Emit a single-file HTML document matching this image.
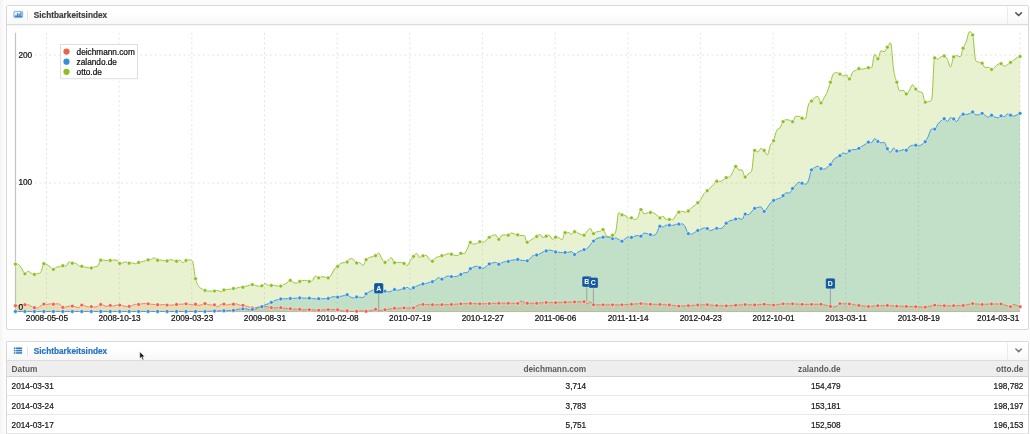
<!DOCTYPE html>
<html><head><meta charset="utf-8"><title>Sichtbarkeitsindex</title>
<style>
html,body{margin:0;padding:0}
body{width:1030px;height:434px;overflow:hidden;background:#fcfcfc;position:relative;font-family:"Liberation Sans",sans-serif;font-size:8.25px;color:#161616;-webkit-text-stroke:0.2px}
.edge{position:absolute;left:0;top:0;width:4px;height:434px;background:linear-gradient(to right,#f4f4f4,#fcfcfc)}
.panel{position:absolute;left:6px;width:1021px;border:1px solid #d9d9d9;background:#fff;box-sizing:content-box;border-radius:2px;box-shadow:0 0 1px rgba(0,0,0,0.05)}
.hd{position:absolute;left:0;top:0;right:0;height:17px;background:linear-gradient(#ffffff 40%,#f7f7f7);border-bottom:1px solid #dcdcdc;box-shadow:0 1px 1px rgba(0,0,0,0.04)}
.hd .sep{position:absolute;left:20px;top:5px;width:1px;height:8.5px;background:#e2e2e2}
.hd .ttl{position:absolute;left:26.8px;top:0;line-height:19.6px;font-weight:bold;color:#3e3e3e;white-space:nowrap}
.hd .chv{position:absolute;right:0;top:1px;bottom:0;width:20.2px;border-left:1px solid #ebebeb}
.t{position:absolute;white-space:nowrap;line-height:10px}
.r{text-align:right}
.th{font-weight:bold;color:#5a5a5a;-webkit-text-stroke:0}
.panel,svg,.t{filter:blur(0.35px)}
.row{position:absolute;left:0;right:0;border-bottom:1px solid #e7e7e7}
</style></head><body>
<div class="edge"></div>
<div class="panel" style="top:5px;height:323px">
 <div class="hd" style="height:17.5px"><div class="sep"></div><div class="ttl">Sichtbarkeitsindex</div><div class="chv"></div></div>
</div>
<div class="panel" style="top:341px;height:100px;border-bottom:none;border-radius:2px 2px 0 0">
 <div class="hd" style="height:17.8px"><div class="sep"></div><div class="ttl" style="color:#2273c3">Sichtbarkeitsindex</div><div class="chv"></div></div>
 <div class="row" style="top:18.8px;height:15.2px;background:#efeeee;border-bottom:1px solid #d4d4d4"></div>
 <div class="row" style="top:35px;height:17.8px"></div>
 <div class="row" style="top:53.8px;height:17.9px"></div>
 <div class="row" style="top:72.7px;height:18px"></div>
</div>
<div class="t th" style="left:11.6px;top:364.6px">Datum</div><div class="t r th" style="right:443.8px;top:364.6px">deichmann.com</div><div class="t r th" style="right:189.3px;top:364.6px">zalando.de</div><div class="t r th" style="right:6.6px;top:364.6px">otto.de</div>
<div class="t " style="left:11.6px;top:381.9px">2014-03-31</div><div class="t r " style="right:443.8px;top:381.9px">3,714</div><div class="t r " style="right:189.3px;top:381.9px">154,479</div><div class="t r " style="right:6.6px;top:381.9px">198,782</div>
<div class="t " style="left:11.6px;top:401.7px">2014-03-24</div><div class="t r " style="right:443.8px;top:401.7px">3,783</div><div class="t r " style="right:189.3px;top:401.7px">153,181</div><div class="t r " style="right:6.6px;top:401.7px">198,197</div>
<div class="t " style="left:11.6px;top:420.6px">2014-03-17</div><div class="t r " style="right:443.8px;top:420.6px">5,751</div><div class="t r " style="right:189.3px;top:420.6px">152,508</div><div class="t r " style="right:6.6px;top:420.6px">196,153</div>
<svg width="1030" height="434" viewBox="0 0 1030 434" style="position:absolute;left:0;top:0">
<line x1="46.5" y1="32.8" x2="46.5" y2="311.4" stroke="#e4e4e4" stroke-width="1" stroke-dasharray="2 2.8"/>
<line x1="119.2" y1="32.8" x2="119.2" y2="311.4" stroke="#e4e4e4" stroke-width="1" stroke-dasharray="2 2.8"/>
<line x1="191.8" y1="32.8" x2="191.8" y2="311.4" stroke="#e4e4e4" stroke-width="1" stroke-dasharray="2 2.8"/>
<line x1="264.5" y1="32.8" x2="264.5" y2="311.4" stroke="#e4e4e4" stroke-width="1" stroke-dasharray="2 2.8"/>
<line x1="337.1" y1="32.8" x2="337.1" y2="311.4" stroke="#e4e4e4" stroke-width="1" stroke-dasharray="2 2.8"/>
<line x1="409.8" y1="32.8" x2="409.8" y2="311.4" stroke="#e4e4e4" stroke-width="1" stroke-dasharray="2 2.8"/>
<line x1="482.4" y1="32.8" x2="482.4" y2="311.4" stroke="#e4e4e4" stroke-width="1" stroke-dasharray="2 2.8"/>
<line x1="555.1" y1="32.8" x2="555.1" y2="311.4" stroke="#e4e4e4" stroke-width="1" stroke-dasharray="2 2.8"/>
<line x1="627.8" y1="32.8" x2="627.8" y2="311.4" stroke="#e4e4e4" stroke-width="1" stroke-dasharray="2 2.8"/>
<line x1="700.4" y1="32.8" x2="700.4" y2="311.4" stroke="#e4e4e4" stroke-width="1" stroke-dasharray="2 2.8"/>
<line x1="773.1" y1="32.8" x2="773.1" y2="311.4" stroke="#e4e4e4" stroke-width="1" stroke-dasharray="2 2.8"/>
<line x1="845.7" y1="32.8" x2="845.7" y2="311.4" stroke="#e4e4e4" stroke-width="1" stroke-dasharray="2 2.8"/>
<line x1="918.4" y1="32.8" x2="918.4" y2="311.4" stroke="#e4e4e4" stroke-width="1" stroke-dasharray="2 2.8"/>
<line x1="1020.0" y1="32.8" x2="1020.0" y2="311.4" stroke="#e4e4e4" stroke-width="1" stroke-dasharray="2 2.8"/>
<line x1="15.5" y1="55.0" x2="1020.0" y2="55.0" stroke="#e4e4e4" stroke-width="1" stroke-dasharray="2 2.8"/>
<line x1="15.5" y1="183.0" x2="1020.0" y2="183.0" stroke="#e4e4e4" stroke-width="1" stroke-dasharray="2 2.8"/>
<line x1="15.5" y1="311.6" x2="1020" y2="311.6" stroke="#c2c6c2" stroke-width="1"/>
<line x1="15.5" y1="32.8" x2="15.5" y2="311.4" stroke="#c4c4c4" stroke-width="1.2"/>
<path d="M15.45 305.74C15.45 305.74 17.35 305.74 18.61 305.49C19.87 305.24 20.50 304.48 21.77 304.48C23.03 304.48 23.66 304.73 24.93 304.73C26.19 304.73 26.82 304.73 28.09 304.73C29.35 304.73 29.98 305.79 31.24 306.38C32.51 306.96 33.14 307.32 34.40 307.65C35.67 307.97 36.30 308.03 37.56 308.03C38.83 308.03 39.46 306.53 40.72 305.74C41.99 304.96 42.62 304.10 43.88 304.10C45.14 304.10 45.78 304.48 47.04 304.48C48.30 304.48 48.94 303.84 50.20 303.84C51.46 303.84 52.09 304.22 53.36 304.22C54.62 304.22 55.25 303.84 56.52 303.84C57.78 303.84 58.41 303.84 59.68 304.22C60.94 304.60 61.57 307.39 62.83 307.39C64.10 307.39 64.73 307.26 65.99 307.01C67.26 306.76 67.89 306.12 69.15 306.12C70.42 306.12 71.05 306.12 72.31 306.12C73.58 306.12 74.21 306.45 75.47 306.76C76.73 307.06 77.37 307.65 78.63 307.65C79.89 307.65 80.53 305.11 81.79 305.11C83.05 305.11 83.68 305.36 84.95 305.74C86.21 306.12 86.84 307.01 88.11 307.01C89.37 307.01 90.00 306.63 91.27 306.63C92.53 306.63 93.16 307.01 94.42 307.01C95.69 307.01 96.32 306.88 97.58 306.38C98.85 305.87 99.48 304.48 100.74 304.48C102.01 304.48 102.64 305.11 103.90 305.49C105.17 305.87 105.80 306.38 107.06 306.38C108.32 306.38 108.96 305.49 110.22 305.49C111.48 305.49 112.12 306.00 113.38 306.00C114.64 306.00 115.27 305.11 116.54 305.11C117.80 305.11 118.43 305.11 119.70 305.11C120.96 305.11 121.59 305.49 122.86 305.74C124.12 306.00 124.75 306.38 126.02 306.38C127.28 306.38 127.91 306.38 129.17 306.38C130.44 306.38 131.07 305.92 132.33 305.49C133.60 305.06 134.23 304.22 135.49 304.22C136.76 304.22 137.39 304.48 138.65 304.48C139.91 304.48 140.55 304.02 141.81 303.84C143.07 303.67 143.71 303.59 144.97 303.59C146.23 303.59 146.86 303.72 148.13 303.84C149.39 303.97 150.02 304.10 151.29 304.22C152.55 304.35 153.18 304.38 154.45 304.48C155.71 304.58 156.34 304.65 157.60 304.73C158.87 304.81 159.50 304.86 160.76 304.86C162.03 304.86 162.66 304.48 163.92 304.48C165.19 304.48 165.82 305.11 167.08 305.11C168.35 305.11 168.98 305.11 170.24 305.11C171.50 305.11 172.14 304.98 173.40 304.86C174.66 304.73 175.30 304.60 176.56 304.48C177.82 304.35 178.45 304.30 179.72 304.22C180.98 304.15 181.61 304.17 182.88 304.10C184.14 304.02 184.77 303.84 186.04 303.84C187.30 303.84 187.93 304.02 189.19 304.22C190.46 304.43 191.09 304.86 192.35 304.86C193.62 304.86 194.25 304.22 195.51 304.22C196.78 304.22 197.41 305.49 198.67 305.49C199.94 305.49 200.57 304.86 201.83 304.48C203.09 304.10 203.73 303.59 204.99 303.59C206.25 303.59 206.89 304.17 208.15 304.48C209.41 304.78 210.04 305.11 211.31 305.11C212.57 305.11 213.20 304.86 214.47 304.86C215.73 304.86 216.36 306.76 217.63 306.76C218.89 306.76 219.52 304.86 220.78 304.48C222.05 304.10 222.68 304.10 223.94 304.10C225.21 304.10 225.84 305.11 227.10 305.11C228.37 305.11 229.00 304.22 230.26 304.22C231.53 304.22 232.16 304.22 233.42 304.22C234.68 304.22 235.32 303.84 236.58 303.84C237.84 303.84 238.48 304.86 239.74 305.11C241.00 305.36 241.63 305.19 242.90 305.36C244.16 305.54 244.79 305.67 246.06 306.00C247.32 306.33 247.95 306.61 249.22 307.01C250.48 307.42 251.11 308.03 252.37 308.03C253.64 308.03 254.27 307.85 255.53 307.65C256.80 307.44 257.43 307.19 258.69 307.01C259.96 306.83 260.59 306.88 261.85 306.76C263.12 306.63 263.75 306.38 265.01 306.38C266.27 306.38 266.91 306.76 268.17 307.01C269.43 307.26 270.07 307.44 271.33 307.65C272.59 307.85 273.22 308.03 274.49 308.03C275.75 308.03 276.38 307.65 277.65 307.65C278.91 307.65 279.54 307.65 280.81 307.65C282.07 307.65 282.70 308.10 283.96 308.28C285.23 308.46 285.86 308.46 287.12 308.53C288.39 308.61 289.02 308.53 290.28 308.66C291.55 308.79 292.18 309.04 293.44 309.17C294.71 309.29 295.34 309.29 296.60 309.29C297.86 309.29 298.50 309.29 299.76 309.29C301.02 309.29 301.66 309.80 302.92 309.80C304.18 309.80 304.81 309.55 306.08 309.55C307.34 309.55 307.97 309.80 309.24 309.80C310.50 309.80 311.13 309.55 312.40 309.55C313.66 309.55 314.29 310.18 315.55 310.18C316.82 310.18 317.45 310.18 318.71 310.18C319.98 310.18 320.61 310.00 321.87 309.93C323.14 309.85 323.77 309.80 325.03 309.80C326.30 309.80 326.93 309.80 328.19 309.80C329.45 309.80 330.09 309.55 331.35 309.55C332.61 309.55 333.25 309.55 334.51 309.55C335.77 309.55 336.40 309.60 337.67 309.80C338.93 310.00 339.56 310.31 340.83 310.56C342.09 310.81 342.72 311.07 343.99 311.07C345.25 311.07 345.88 310.81 347.14 310.81C348.41 310.81 349.04 311.45 350.30 311.45C351.57 311.45 352.20 311.45 353.46 311.45C354.73 311.45 355.36 311.27 356.62 311.19C357.89 311.12 358.52 311.14 359.78 311.07C361.04 310.99 361.68 310.81 362.94 310.81C364.20 310.81 364.84 311.19 366.10 311.19C367.36 311.19 367.99 311.02 369.26 310.81C370.52 310.61 371.15 310.48 372.42 310.18C373.68 309.88 374.31 309.29 375.58 309.29C376.84 309.29 377.47 310.81 378.73 310.81C380.00 310.81 380.63 310.38 381.89 310.18C383.16 309.98 383.79 309.98 385.05 309.80C386.32 309.62 386.95 309.52 388.21 309.29C389.48 309.06 390.11 308.86 391.37 308.66C392.63 308.46 393.27 308.28 394.53 308.28C395.79 308.28 396.43 308.28 397.69 308.28C398.95 308.28 399.58 308.10 400.85 308.03C402.11 307.95 402.74 307.90 404.01 307.90C405.27 307.90 405.90 308.03 407.17 308.03C408.43 308.03 409.06 308.03 410.32 308.03C411.59 308.03 412.22 308.03 413.48 307.90C414.75 307.77 415.38 306.66 416.64 306.00C417.91 305.34 418.54 304.73 419.80 304.60C421.07 304.48 421.70 304.48 422.96 304.48C424.22 304.48 424.86 304.53 426.12 304.56C427.38 304.59 428.02 304.61 429.28 304.65C430.54 304.68 431.17 304.73 432.44 304.73C433.70 304.73 434.33 304.73 435.60 304.73C436.86 304.73 437.49 304.73 438.76 304.73C440.02 304.73 440.65 304.73 441.91 304.73C443.18 304.73 443.81 304.68 445.07 304.65C446.34 304.61 446.97 304.59 448.23 304.56C449.50 304.53 450.13 304.54 451.39 304.48C452.66 304.42 453.29 304.35 454.55 304.27C455.81 304.18 456.45 304.14 457.71 304.05C458.97 303.97 459.61 303.91 460.87 303.84C462.13 303.78 462.76 303.77 464.03 303.72C465.29 303.67 465.92 303.64 467.19 303.59C468.45 303.54 469.08 303.46 470.35 303.46C471.61 303.46 472.24 303.54 473.50 303.59C474.77 303.64 475.40 303.67 476.66 303.72C477.93 303.77 478.56 303.84 479.82 303.84C481.09 303.84 481.72 303.79 482.98 303.76C484.25 303.72 484.88 303.71 486.14 303.67C487.40 303.64 488.04 303.63 489.30 303.59C490.56 303.55 491.20 303.51 492.46 303.46C493.72 303.41 494.35 303.39 495.62 303.34C496.88 303.29 497.51 303.21 498.78 303.21C500.04 303.21 500.67 303.21 501.94 303.21C503.20 303.21 503.83 303.21 505.09 303.21C506.36 303.21 506.99 303.21 508.25 303.21C509.52 303.21 510.15 303.23 511.41 303.25C512.68 303.27 513.31 303.27 514.57 303.29C515.84 303.31 516.47 303.33 517.73 303.33C518.99 303.33 519.63 301.05 520.89 301.05C522.15 301.05 522.79 301.89 524.05 302.32C525.31 302.75 525.94 303.21 527.21 303.21C528.47 303.21 529.10 303.21 530.37 303.21C531.63 303.21 532.26 303.21 533.53 303.21C534.79 303.21 535.42 303.21 536.69 303.21C537.95 303.21 538.58 303.05 539.84 302.95C541.11 302.85 541.74 302.80 543.00 302.70C544.27 302.60 544.90 302.45 546.16 302.45C547.43 302.45 548.06 302.50 549.32 302.53C550.58 302.56 551.22 302.58 552.48 302.62C553.74 302.65 554.38 302.70 555.64 302.70C556.90 302.70 557.53 302.60 558.80 302.53C560.06 302.46 560.69 302.43 561.96 302.36C563.22 302.29 563.85 302.24 565.12 302.19C566.38 302.14 567.01 302.14 568.27 302.11C569.54 302.07 570.17 302.06 571.43 302.02C572.70 301.99 573.33 301.97 574.59 301.94C575.86 301.91 576.49 301.89 577.75 301.85C579.02 301.82 579.65 301.80 580.91 301.77C582.17 301.74 582.81 301.69 584.07 301.69C585.33 301.69 585.97 303.59 587.23 303.59C588.49 303.59 589.12 301.94 590.39 301.94C591.65 301.94 592.28 304.85 593.55 304.85C594.81 304.85 595.44 304.85 596.71 304.85C597.97 304.85 598.60 304.85 599.87 304.85C601.13 304.85 601.76 304.85 603.02 304.85C604.29 304.85 604.92 304.85 606.18 304.85C607.45 304.85 608.08 304.85 609.34 304.85C610.61 304.85 611.24 304.85 612.50 304.85C613.76 304.85 614.40 304.85 615.66 304.85C616.92 304.85 617.56 304.85 618.82 304.85C620.08 304.85 620.71 304.85 621.98 304.85C623.24 304.85 623.87 304.73 625.14 304.64C626.40 304.56 627.03 304.52 628.30 304.43C629.56 304.35 630.19 304.31 631.46 304.22C632.72 304.14 633.35 304.09 634.61 304.01C635.88 303.92 636.51 303.88 637.77 303.80C639.04 303.71 639.67 303.59 640.93 303.59C642.20 303.59 642.83 303.71 644.09 303.80C645.35 303.88 645.99 303.92 647.25 304.01C648.51 304.09 649.15 304.16 650.41 304.22C651.67 304.28 652.30 304.27 653.57 304.31C654.83 304.34 655.46 304.36 656.73 304.39C657.99 304.42 658.62 304.42 659.89 304.47C661.15 304.52 661.78 304.58 663.04 304.64C664.31 304.71 664.94 304.74 666.20 304.81C667.47 304.88 668.10 304.87 669.36 304.98C670.63 305.09 671.26 305.21 672.52 305.36C673.79 305.51 674.42 305.59 675.68 305.74C676.94 305.89 677.58 306.12 678.84 306.12C680.10 306.12 680.74 306.05 682.00 305.99C683.26 305.94 683.89 305.92 685.16 305.87C686.42 305.82 687.05 305.82 688.32 305.74C689.58 305.67 690.21 305.59 691.48 305.49C692.74 305.39 693.37 305.34 694.63 305.23C695.90 305.13 696.53 305.05 697.79 304.98C699.06 304.91 699.69 304.93 700.95 304.90C702.22 304.86 702.85 304.85 704.11 304.81C705.38 304.78 706.01 304.73 707.27 304.73C708.53 304.73 709.17 304.90 710.43 305.02C711.69 305.14 712.33 305.20 713.59 305.32C714.85 305.44 715.48 305.54 716.75 305.61C718.01 305.69 718.64 305.67 719.91 305.70C721.17 305.73 721.80 305.75 723.07 305.78C724.33 305.82 724.96 305.87 726.23 305.87C727.49 305.87 728.12 305.74 729.38 305.66C730.65 305.57 731.28 305.53 732.54 305.45C733.81 305.36 734.44 305.32 735.70 305.23C736.97 305.15 737.60 305.11 738.86 305.02C740.12 304.94 740.76 304.90 742.02 304.81C743.28 304.73 743.92 304.60 745.18 304.60C746.44 304.60 747.07 304.68 748.34 304.73C749.60 304.78 750.23 304.80 751.50 304.85C752.76 304.90 753.39 304.98 754.66 304.98C755.92 304.98 756.55 304.83 757.82 304.73C759.08 304.63 759.71 304.58 760.97 304.47C762.24 304.37 762.87 304.22 764.13 304.22C765.40 304.22 766.03 304.40 767.29 304.52C768.56 304.63 769.19 304.69 770.45 304.81C771.71 304.93 772.35 305.11 773.61 305.11C774.87 305.11 775.51 304.85 776.77 304.69C778.03 304.52 778.66 304.43 779.93 304.26C781.19 304.09 781.82 303.84 783.09 303.84C784.35 303.84 784.98 303.84 786.25 303.84C787.51 303.84 788.14 303.84 789.40 303.84C790.67 303.84 791.30 303.84 792.56 303.84C793.83 303.84 794.46 303.94 795.72 304.01C796.99 304.08 797.62 304.11 798.88 304.18C800.15 304.25 800.78 304.35 802.04 304.35C803.30 304.35 803.94 304.35 805.20 304.35C806.46 304.35 807.10 304.35 808.36 304.35C809.62 304.35 810.25 304.35 811.52 304.35C812.78 304.35 813.41 304.32 814.68 304.31C815.94 304.29 816.57 304.28 817.84 304.26C819.10 304.25 819.73 304.22 821.00 304.22C822.26 304.22 822.89 304.60 824.15 304.85C825.42 305.11 826.05 305.16 827.31 305.49C828.58 305.82 829.21 306.25 830.47 306.50C831.74 306.76 832.37 306.76 833.63 306.76C834.89 306.76 835.53 306.76 836.79 306.25C838.05 305.74 838.69 303.59 839.95 303.59C841.21 303.59 841.84 303.66 843.11 303.71C844.37 303.76 845.00 303.79 846.27 303.84C847.53 303.89 848.16 303.84 849.43 303.97C850.69 304.09 851.32 304.27 852.59 304.47C853.85 304.68 854.48 304.78 855.74 304.98C857.01 305.18 857.64 305.32 858.90 305.49C860.17 305.66 860.80 305.69 862.06 305.83C863.33 305.96 863.96 306.03 865.22 306.16C866.48 306.30 867.12 306.50 868.38 306.50C869.64 306.50 870.28 306.35 871.54 306.25C872.80 306.15 873.43 306.10 874.70 305.99C875.96 305.89 876.59 305.81 877.86 305.74C879.12 305.67 879.75 305.69 881.02 305.66C882.28 305.62 882.91 305.61 884.17 305.57C885.44 305.54 886.07 305.49 887.33 305.49C888.60 305.49 889.23 305.61 890.49 305.70C891.76 305.78 892.39 305.83 893.65 305.91C894.92 305.99 895.55 306.06 896.81 306.12C898.07 306.18 898.71 306.17 899.97 306.21C901.23 306.24 901.87 306.26 903.13 306.29C904.39 306.32 905.02 306.33 906.29 306.38C907.55 306.42 908.18 306.45 909.45 306.50C910.71 306.55 911.34 306.58 912.61 306.63C913.87 306.68 914.50 306.70 915.76 306.76C917.03 306.81 917.66 306.83 918.92 306.88C920.19 306.93 920.82 306.96 922.08 307.01C923.35 307.06 923.98 307.14 925.24 307.14C926.51 307.14 927.14 306.73 928.40 306.46C929.66 306.19 930.30 306.05 931.56 305.78C932.82 305.51 933.46 305.11 934.72 305.11C935.98 305.11 936.61 305.23 937.88 305.32C939.14 305.40 939.77 305.45 941.04 305.53C942.30 305.61 942.93 305.74 944.20 305.74C945.46 305.74 946.09 305.74 947.36 305.74C948.62 305.74 949.25 305.74 950.51 305.74C951.78 305.74 952.41 305.74 953.67 305.74C954.94 305.74 955.57 305.69 956.83 305.66C958.10 305.62 958.73 305.61 959.99 305.57C961.25 305.54 961.89 305.57 963.15 305.49C964.41 305.40 965.05 305.11 966.31 304.85C967.57 304.60 968.20 304.47 969.47 304.22C970.73 303.97 971.36 303.59 972.63 303.59C973.89 303.59 974.52 303.76 975.79 303.88C977.05 304.00 977.68 304.06 978.94 304.18C980.21 304.30 980.84 304.47 982.10 304.47C983.37 304.47 984.00 304.37 985.26 304.31C986.53 304.24 987.16 304.20 988.42 304.14C989.69 304.07 990.32 303.97 991.58 303.97C992.84 303.97 993.48 303.97 994.74 303.97C996.00 303.97 996.64 303.97 997.90 303.97C999.16 303.97 999.79 303.97 1001.06 303.97C1002.32 303.97 1002.95 304.52 1004.22 304.90C1005.48 305.27 1006.11 305.45 1007.38 305.83C1008.64 306.20 1009.27 306.76 1010.53 306.76C1011.80 306.76 1012.43 304.47 1013.69 304.47C1014.96 304.47 1015.59 305.03 1016.85 305.49C1018.12 305.94 1020.01 306.76 1020.01 306.76L1020.01 311.40L15.45 311.40Z" fill="rgba(255,132,78,0.22)" stroke="none"/>
<path d="M15.45 311.45C15.45 311.45 17.35 311.45 18.61 311.45C19.87 311.45 20.50 311.45 21.77 311.45C23.03 311.45 23.66 311.45 24.93 311.45C26.19 311.45 26.82 311.45 28.09 311.45C29.35 311.45 29.98 311.45 31.24 311.45C32.51 311.45 33.14 311.45 34.40 311.45C35.67 311.45 36.30 311.45 37.56 311.45C38.83 311.45 39.46 311.45 40.72 311.45C41.99 311.45 42.62 311.45 43.88 311.45C45.14 311.45 45.78 311.45 47.04 311.45C48.30 311.45 48.94 311.45 50.20 311.45C51.46 311.45 52.09 311.45 53.36 311.45C54.62 311.45 55.25 311.45 56.52 311.45C57.78 311.45 58.41 311.45 59.68 311.45C60.94 311.45 61.57 311.45 62.83 311.45C64.10 311.45 64.73 311.45 65.99 311.45C67.26 311.45 67.89 311.45 69.15 311.45C70.42 311.45 71.05 311.45 72.31 311.45C73.58 311.45 74.21 311.45 75.47 311.45C76.73 311.45 77.37 311.45 78.63 311.45C79.89 311.45 80.53 311.45 81.79 311.45C83.05 311.45 83.68 311.45 84.95 311.45C86.21 311.45 86.84 311.45 88.11 311.45C89.37 311.45 90.00 311.45 91.27 311.45C92.53 311.45 93.16 311.45 94.42 311.45C95.69 311.45 96.32 311.45 97.58 311.45C98.85 311.45 99.48 311.45 100.74 311.45C102.01 311.45 102.64 311.45 103.90 311.45C105.17 311.45 105.80 311.45 107.06 311.45C108.32 311.45 108.96 311.45 110.22 311.45C111.48 311.45 112.12 311.45 113.38 311.45C114.64 311.45 115.27 311.45 116.54 311.45C117.80 311.45 118.43 311.45 119.70 311.45C120.96 311.45 121.59 311.45 122.86 311.45C124.12 311.45 124.75 311.45 126.02 311.45C127.28 311.45 127.91 311.45 129.17 311.45C130.44 311.45 131.07 311.45 132.33 311.45C133.60 311.45 134.23 311.45 135.49 311.45C136.76 311.45 137.39 311.45 138.65 311.45C139.91 311.45 140.55 311.45 141.81 311.45C143.07 311.45 143.71 311.45 144.97 311.45C146.23 311.45 146.86 311.45 148.13 311.45C149.39 311.45 150.02 311.45 151.29 311.45C152.55 311.45 153.18 311.45 154.45 311.45C155.71 311.45 156.34 311.45 157.60 311.45C158.87 311.45 159.50 311.45 160.76 311.45C162.03 311.45 162.66 311.45 163.92 311.45C165.19 311.45 165.82 311.45 167.08 311.45C168.35 311.45 168.98 311.45 170.24 311.45C171.50 311.45 172.14 311.45 173.40 311.45C174.66 311.45 175.30 311.45 176.56 311.45C177.82 311.45 178.45 311.45 179.72 311.45C180.98 311.45 181.61 311.45 182.88 311.45C184.14 311.45 184.77 311.45 186.04 311.45C187.30 311.45 187.93 311.45 189.19 311.45C190.46 311.45 191.09 311.45 192.35 311.45C193.62 311.45 194.25 311.45 195.51 311.45C196.78 311.45 197.41 311.45 198.67 311.45C199.94 311.45 200.57 311.45 201.83 311.45C203.09 311.45 203.73 311.45 204.99 311.45C206.25 311.45 206.89 311.37 208.15 311.32C209.41 311.27 210.04 311.24 211.31 311.19C212.57 311.14 213.20 311.12 214.47 311.07C215.73 311.02 216.36 310.99 217.63 310.94C218.89 310.89 219.52 310.81 220.78 310.81C222.05 310.81 222.68 310.81 223.94 310.81C225.21 310.81 225.84 310.74 227.10 310.69C228.37 310.64 229.00 310.61 230.26 310.56C231.53 310.51 232.16 310.56 233.42 310.43C234.68 310.31 235.32 310.08 236.58 309.80C237.84 309.52 238.48 309.17 239.74 309.04C241.00 308.91 241.63 308.99 242.90 308.91C244.16 308.84 244.79 308.66 246.06 308.66C247.32 308.66 247.95 309.80 249.22 309.80C250.48 309.80 251.11 309.72 252.37 309.55C253.64 309.37 254.27 309.37 255.53 308.91C256.80 308.46 257.43 307.70 258.69 307.26C259.96 306.83 260.59 307.26 261.85 306.76C263.12 306.26 263.75 305.33 265.01 304.75C266.27 304.17 266.91 304.35 268.17 303.87C269.43 303.38 270.07 302.98 271.33 302.34C272.59 301.71 273.22 301.23 274.49 300.70C275.75 300.16 276.38 300.01 277.65 299.68C278.91 299.35 279.54 299.23 280.81 299.05C282.07 298.87 282.70 298.87 283.96 298.80C285.23 298.72 285.86 298.72 287.12 298.67C288.39 298.62 289.02 298.62 290.28 298.54C291.55 298.47 292.18 298.37 293.44 298.29C294.71 298.21 295.34 298.24 296.60 298.16C297.86 298.09 298.50 297.91 299.76 297.91C301.02 297.91 301.66 297.98 302.92 298.04C304.18 298.09 304.81 298.16 306.08 298.16C307.34 298.16 307.97 298.16 309.24 298.16C310.50 298.16 311.13 298.42 312.40 298.54C313.66 298.67 314.29 298.80 315.55 298.80C316.82 298.80 317.45 298.80 318.71 298.80C319.98 298.80 320.61 298.80 321.87 298.80C323.14 298.80 323.77 298.72 325.03 298.67C326.30 298.62 326.93 298.67 328.19 298.54C329.45 298.42 330.09 297.53 331.35 297.15C332.61 296.77 333.25 296.64 334.51 296.64C335.77 296.64 336.40 297.15 337.67 297.15C338.93 297.15 339.56 296.57 340.83 296.26C342.09 295.96 342.72 295.93 343.99 295.63C345.25 295.32 345.88 294.74 347.14 294.74C348.41 294.74 349.04 296.26 350.30 296.89C351.57 297.53 352.20 297.91 353.46 297.91C354.73 297.91 355.36 297.02 356.62 297.02C357.89 297.02 358.52 297.17 359.78 297.28C361.04 297.38 361.68 297.53 362.94 297.53C364.20 297.53 364.84 294.99 366.10 293.85C367.36 292.71 367.99 292.53 369.26 291.83C370.52 291.12 371.15 290.76 372.42 290.30C373.68 289.85 374.31 289.54 375.58 289.54C376.84 289.54 377.47 289.67 378.73 289.92C380.00 290.18 380.63 290.56 381.89 290.81C383.16 291.06 383.79 290.99 385.05 291.19C386.32 291.39 386.95 291.83 388.21 291.83C389.48 291.83 390.11 291.65 391.37 291.19C392.63 290.74 393.27 289.54 394.53 289.54C395.79 289.54 396.43 290.30 397.69 290.30C398.95 290.30 399.58 289.67 400.85 289.29C402.11 288.91 402.74 288.78 404.01 288.40C405.27 288.02 405.90 287.39 407.17 287.39C408.43 287.39 409.06 289.29 410.32 289.29C411.59 289.29 412.22 288.40 413.48 287.77C414.75 287.14 415.38 286.70 416.64 286.12C417.91 285.54 418.54 285.29 419.80 284.85C421.07 284.42 421.70 284.22 422.96 283.97C424.22 283.71 424.86 283.92 426.12 283.59C427.38 283.26 428.02 282.70 429.28 282.32C430.54 281.94 431.17 282.19 432.44 281.69C433.70 281.18 434.33 280.60 435.60 279.78C436.86 278.97 437.49 277.63 438.76 277.63C440.02 277.63 440.65 279.15 441.91 279.15C443.18 279.15 443.81 277.88 445.07 277.25C446.34 276.62 446.97 275.98 448.23 275.98C449.50 275.98 450.13 276.62 451.39 276.62C452.66 276.62 453.29 276.62 454.55 276.62C455.81 276.62 456.45 276.41 457.71 275.98C458.97 275.55 459.61 275.10 460.87 274.46C462.13 273.83 462.76 273.07 464.03 272.81C465.29 272.56 465.92 272.81 467.19 272.56C468.45 272.31 469.08 269.85 470.35 268.76C471.61 267.67 472.24 267.62 473.50 267.11C474.77 266.60 475.40 266.22 476.66 266.22C477.93 266.22 478.56 267.36 479.82 267.74C481.09 268.12 481.72 268.12 482.98 268.12C484.25 268.12 484.88 267.31 486.14 266.48C487.40 265.64 488.04 264.63 489.30 263.94C490.56 263.26 491.20 263.36 492.46 263.05C493.72 262.75 494.35 262.42 495.62 262.42C496.88 262.42 497.51 264.32 498.78 264.32C500.04 264.32 500.67 263.21 501.94 262.67C503.20 262.14 503.83 261.82 505.09 261.66C506.36 261.50 506.99 261.66 508.25 261.50C509.52 261.34 510.15 260.56 511.41 260.23C512.68 259.90 513.31 260.01 514.57 259.85C515.84 259.70 516.47 259.47 517.73 259.47C518.99 259.47 519.63 260.03 520.89 260.23C522.15 260.44 522.79 260.36 524.05 260.49C525.31 260.61 525.94 260.87 527.21 260.87C528.47 260.87 529.10 259.30 530.37 258.21C531.63 257.12 532.26 255.80 533.53 255.42C534.79 255.04 535.42 255.34 536.69 255.04C537.95 254.73 538.58 254.53 539.84 253.90C541.11 253.26 541.74 252.45 543.00 251.87C544.27 251.29 544.90 251.34 546.16 250.98C547.43 250.63 548.06 250.10 549.32 250.10C550.58 250.10 551.22 250.35 552.48 250.73C553.74 251.11 554.38 251.74 555.64 252.00C556.90 252.25 557.53 252.12 558.80 252.25C560.06 252.38 560.69 252.63 561.96 252.63C563.22 252.63 563.85 252.58 565.12 252.50C566.38 252.43 567.01 252.43 568.27 252.25C569.54 252.07 570.17 251.62 571.43 251.62C572.70 251.62 573.33 254.53 574.59 254.53C575.86 254.53 576.49 253.01 577.75 252.25C579.02 251.49 579.65 251.24 580.91 250.73C582.17 250.22 582.81 250.17 584.07 249.71C585.33 249.26 585.97 249.46 587.23 248.45C588.49 247.43 589.12 246.12 590.39 244.65C591.65 243.17 592.28 242.31 593.55 241.10C594.81 239.88 595.44 239.25 596.71 238.56C597.97 237.88 598.60 237.93 599.87 237.67C601.13 237.42 601.76 237.47 603.02 237.29C604.29 237.12 604.92 236.79 606.18 236.79C607.45 236.79 608.08 236.91 609.34 237.29C610.61 237.67 611.24 238.69 612.50 238.69C613.76 238.69 614.40 238.05 615.66 238.05C616.92 238.05 617.56 238.94 618.82 239.58C620.08 240.21 620.71 241.22 621.98 241.22C623.24 241.22 623.87 239.52 625.14 238.69C626.40 237.85 627.03 237.04 628.30 237.04C629.56 237.04 630.19 237.46 631.46 237.46C632.72 237.46 633.35 236.57 634.61 236.19C635.88 235.81 636.51 235.56 637.77 235.56C639.04 235.56 639.67 236.19 640.93 236.19C642.20 236.19 642.83 233.02 644.09 233.02C645.35 233.02 645.99 233.33 647.25 233.66C648.51 233.99 649.15 234.34 650.41 234.67C651.67 235.00 652.30 235.30 653.57 235.30C654.83 235.30 655.46 234.82 656.73 233.02C657.99 231.22 658.62 226.31 659.89 226.31C661.15 226.31 661.78 226.94 663.04 226.94C664.31 226.94 664.94 225.16 666.20 225.16C667.47 225.16 668.10 225.16 669.36 225.16C670.63 225.16 671.26 225.42 672.52 225.42C673.79 225.42 674.42 224.66 675.68 224.40C676.94 224.15 677.58 224.25 678.84 224.15C680.10 224.05 680.74 223.90 682.00 223.90C683.26 223.90 683.89 224.73 685.16 226.69C686.42 228.64 687.05 233.28 688.32 233.66C689.58 234.04 690.21 234.04 691.48 234.04C692.74 234.04 693.37 233.10 694.63 232.39C695.90 231.68 696.53 231.12 697.79 230.49C699.06 229.85 699.69 229.73 700.95 229.22C702.22 228.71 702.85 227.95 704.11 227.95C705.38 227.95 706.01 228.08 707.27 228.59C708.53 229.09 709.17 230.49 710.43 230.49C711.69 230.49 712.33 229.90 713.59 229.47C714.85 229.04 715.48 228.33 716.75 228.33C718.01 228.33 718.64 228.59 719.91 228.59C721.17 228.59 721.80 228.38 723.07 227.32C724.33 226.25 724.96 224.53 726.23 223.26C727.49 222.00 728.12 221.62 729.38 220.98C730.65 220.35 731.28 220.48 732.54 220.10C733.81 219.71 734.44 219.46 735.70 219.08C736.97 218.70 737.60 218.19 738.86 218.19C740.12 218.19 740.76 219.46 742.02 219.46C743.28 219.46 743.92 214.10 745.18 214.10C746.44 214.10 747.07 214.70 748.34 214.70C749.60 214.70 750.23 212.96 751.50 211.70C752.76 210.45 753.39 209.28 754.66 208.41C755.92 207.54 756.55 207.66 757.82 207.36C759.08 207.06 759.71 206.91 760.97 206.91C762.24 206.91 762.87 211.40 764.13 211.40C765.40 211.40 766.03 209.31 767.29 207.66C768.56 206.01 769.19 204.61 770.45 203.17C771.71 201.73 772.35 201.28 773.61 200.47C774.87 199.66 775.51 199.57 776.77 199.12C778.03 198.67 778.66 198.91 779.93 198.23C781.19 197.54 781.82 196.79 783.09 195.68C784.35 194.57 784.98 192.68 786.25 192.68C787.51 192.68 788.14 193.13 789.40 193.13C790.67 193.13 791.30 190.08 792.56 188.49C793.83 186.90 794.46 186.45 795.72 185.20C796.99 183.94 797.62 182.20 798.88 182.20C800.15 182.20 800.78 182.86 802.04 183.25C803.30 183.64 803.94 184.15 805.20 184.15C806.46 184.15 807.10 183.55 808.36 180.70C809.62 177.86 810.25 172.17 811.52 169.92C812.78 167.67 813.41 168.42 814.68 167.67C815.94 166.92 816.57 166.17 817.84 166.17C819.10 166.17 819.73 168.27 821.00 168.72C822.26 169.17 822.89 169.17 824.15 169.17C825.42 169.17 826.05 168.15 827.31 167.22C828.58 166.29 829.21 166.03 830.47 164.53C831.74 163.03 832.37 161.20 833.63 159.73C834.89 158.27 835.53 158.00 836.79 157.19C838.05 156.38 838.69 156.55 839.95 155.70C841.21 154.84 841.84 152.91 843.11 152.91C844.37 152.91 845.00 153.80 846.27 153.80C847.53 153.80 848.16 151.84 849.43 151.01C850.69 150.17 851.32 149.61 852.59 149.61C853.85 149.61 854.48 149.61 855.74 149.61C857.01 149.61 857.64 149.03 858.90 148.35C860.17 147.66 860.80 147.00 862.06 146.19C863.33 145.38 863.96 145.10 865.22 144.29C866.48 143.48 867.12 142.14 868.38 142.14C869.64 142.14 870.28 142.64 871.54 142.64C872.80 142.64 873.43 138.59 874.70 138.59C875.96 138.59 876.59 140.67 877.86 141.50C879.12 142.34 879.75 142.77 881.02 142.77C882.28 142.77 882.91 142.39 884.17 142.39C885.44 142.39 886.07 146.77 887.33 148.73C888.60 150.68 889.23 152.15 890.49 152.15C891.76 152.15 892.39 148.09 893.65 148.09C894.92 148.09 895.55 151.01 896.81 151.01C898.07 151.01 898.71 151.01 899.97 150.88C901.23 150.75 901.87 149.61 903.13 149.61C904.39 149.61 905.02 150.25 906.29 150.25C907.55 150.25 908.18 147.56 909.45 146.57C910.71 145.58 911.34 145.43 912.61 145.30C913.87 145.18 914.50 145.18 915.76 145.18C917.03 145.18 917.66 145.81 918.92 145.81C920.19 145.81 920.82 145.10 922.08 144.29C923.35 143.48 923.98 143.40 925.24 141.76C926.51 140.11 927.14 138.59 928.40 136.05C929.66 133.52 930.30 129.08 931.56 129.08C932.82 129.08 933.46 129.08 934.72 129.08C935.98 129.08 936.61 125.66 937.88 124.01C939.14 122.36 939.77 121.91 941.04 120.84C942.30 119.78 942.93 118.69 944.20 118.69C945.46 118.69 946.09 121.48 947.36 121.48C948.62 121.48 949.25 117.67 950.51 117.67C951.78 117.67 952.41 118.18 953.67 118.94C954.94 119.70 955.57 121.48 956.83 121.48C958.10 121.48 958.73 117.86 959.99 116.41C961.25 114.96 961.89 114.22 963.15 114.22C964.41 114.22 965.05 114.47 966.31 114.47C967.57 114.47 968.20 114.07 969.47 113.59C970.73 113.11 971.36 112.07 972.63 112.07C973.89 112.07 974.52 114.85 975.79 114.85C977.05 114.85 977.68 114.85 978.94 114.85C980.21 114.85 980.84 113.33 982.10 113.33C983.37 113.33 984.00 114.73 985.26 115.49C986.53 116.25 987.16 117.14 988.42 117.14C989.69 117.14 990.32 115.23 991.58 115.23C992.84 115.23 993.48 116.53 994.74 117.01C996.00 117.49 996.64 117.64 997.90 117.64C999.16 117.64 999.79 115.87 1001.06 115.87C1002.32 115.87 1002.95 116.76 1004.22 116.76C1005.48 116.76 1006.11 113.97 1007.38 113.97C1008.64 113.97 1009.27 114.80 1010.53 115.23C1011.80 115.67 1012.43 116.12 1013.69 116.12C1014.96 116.12 1015.59 115.41 1016.85 114.85C1018.12 114.30 1020.01 113.33 1020.01 113.33L1020.01 311.40L15.45 311.40Z" fill="rgba(20,144,202,0.21)" stroke="none"/>
<path d="M15.45 264.08C15.45 264.08 17.35 264.08 18.61 264.71C19.87 265.35 20.50 266.69 21.77 268.52C23.03 270.34 23.66 273.84 24.93 273.84C26.19 273.84 26.82 271.31 28.09 271.31C29.35 271.31 29.98 272.57 31.24 273.21C32.51 273.84 33.14 274.47 34.40 274.47C35.67 274.47 36.30 274.02 37.56 273.59C38.83 273.16 39.46 273.59 40.72 272.32C41.99 271.05 42.62 263.70 43.88 263.70C45.14 263.70 45.78 264.08 47.04 264.71C48.30 265.35 48.94 265.93 50.20 266.87C51.46 267.81 52.09 269.40 53.36 269.40C54.62 269.40 55.25 267.81 56.52 267.25C57.78 266.69 58.41 266.92 59.68 266.62C60.94 266.31 61.57 265.73 62.83 265.73C64.10 265.73 64.73 265.98 65.99 265.98C67.26 265.98 67.89 261.80 69.15 261.80C70.42 261.80 71.05 263.19 72.31 263.19C73.58 263.19 74.21 263.19 75.47 263.19C76.73 263.19 77.37 265.10 78.63 265.73C79.89 266.36 80.53 266.11 81.79 266.36C83.05 266.62 83.68 266.74 84.95 267.00C86.21 267.25 86.84 267.43 88.11 267.63C89.37 267.83 90.00 268.01 91.27 268.01C92.53 268.01 93.16 267.33 94.42 267.00C95.69 266.67 96.32 267.00 97.58 266.36C98.85 265.73 99.48 260.53 100.74 260.28C102.01 260.03 102.64 260.03 103.90 260.03C105.17 260.03 105.80 260.66 107.06 260.66C108.32 260.66 108.96 260.66 110.22 260.53C111.48 260.41 112.12 260.03 113.38 260.03C114.64 260.03 115.27 260.03 116.54 260.03C117.80 260.03 118.43 263.45 119.70 263.45C120.96 263.45 121.59 263.12 122.86 262.81C124.12 262.51 124.75 261.93 126.02 261.93C127.28 261.93 127.91 263.19 129.17 263.19C130.44 263.19 131.07 262.81 132.33 262.81C133.60 262.81 134.23 263.83 135.49 263.83C136.76 263.83 137.39 262.97 138.65 262.56C139.91 262.15 140.55 262.13 141.81 261.80C143.07 261.47 143.71 261.29 144.97 260.91C146.23 260.53 146.86 260.20 148.13 259.90C149.39 259.59 150.02 259.82 151.29 259.39C152.55 258.96 153.18 257.74 154.45 257.74C155.71 257.74 156.34 260.28 157.60 260.28C158.87 260.28 159.50 260.03 160.76 260.03C162.03 260.03 162.66 260.46 163.92 260.66C165.19 260.86 165.82 261.04 167.08 261.04C168.35 261.04 168.98 259.65 170.24 259.65C171.50 259.65 172.14 259.95 173.40 260.28C174.66 260.61 175.30 261.29 176.56 261.29C177.82 261.29 178.45 260.03 179.72 260.03C180.98 260.03 181.61 262.56 182.88 262.56C184.14 262.56 184.77 261.06 186.04 260.53C187.30 260.00 187.93 259.90 189.19 259.90C190.46 259.90 191.09 259.90 192.35 260.91C193.62 261.93 194.25 273.59 195.51 278.66C196.78 283.73 197.41 284.23 198.67 286.26C199.94 288.29 200.57 287.96 201.83 288.80C203.09 289.63 203.73 289.99 204.99 290.44C206.25 290.90 206.89 291.08 208.15 291.08C209.41 291.08 210.04 291.08 211.31 291.08C212.57 291.08 213.20 291.08 214.47 291.08C215.73 291.08 216.36 290.44 217.63 290.44C218.89 290.44 219.52 291.71 220.78 291.71C222.05 291.71 222.68 290.52 223.94 290.06C225.21 289.61 225.84 289.61 227.10 289.43C228.37 289.25 229.00 289.35 230.26 289.18C231.53 289.00 232.16 288.75 233.42 288.54C234.68 288.34 235.32 288.44 236.58 288.16C237.84 287.88 238.48 287.15 239.74 287.15C241.00 287.15 241.63 287.28 242.90 287.28C244.16 287.28 244.79 286.64 246.06 286.26C247.32 285.88 247.95 285.70 249.22 285.37C250.48 285.04 251.11 284.61 252.37 284.61C253.64 284.61 254.27 285.04 255.53 285.37C256.80 285.70 257.43 286.26 258.69 286.26C259.96 286.26 260.59 286.26 261.85 285.87C263.12 285.48 263.75 283.59 265.01 283.59C266.27 283.59 266.91 284.98 268.17 285.23C269.43 285.49 270.07 285.49 271.33 285.49C272.59 285.49 273.22 285.23 274.49 285.23C275.75 285.23 276.38 286.12 277.65 286.12C278.91 286.12 279.54 286.12 280.81 286.12C282.07 286.12 282.70 285.16 283.96 284.47C285.23 283.79 285.86 283.51 287.12 282.70C288.39 281.89 289.02 280.42 290.28 280.42C291.55 280.42 292.18 281.76 293.44 282.32C294.71 282.88 295.34 283.21 296.60 283.21C297.86 283.21 298.50 281.99 299.76 281.43C301.02 280.87 301.66 280.42 302.92 280.42C304.18 280.42 304.81 280.42 306.08 280.42C307.34 280.42 307.97 281.43 309.24 281.43C310.50 281.43 311.13 281.43 312.40 280.42C313.66 279.40 314.29 275.98 315.55 275.98C316.82 275.98 317.45 277.88 318.71 277.88C319.98 277.88 320.61 276.62 321.87 276.62C323.14 276.62 323.77 277.00 325.03 277.25C326.30 277.50 326.93 277.88 328.19 277.88C329.45 277.88 330.09 276.49 331.35 274.71C332.61 272.94 333.25 270.66 334.51 269.01C335.77 267.36 336.40 267.62 337.67 266.48C338.93 265.34 339.56 263.94 340.83 263.31C342.09 262.67 342.72 262.93 343.99 262.67C345.25 262.42 345.88 262.67 347.14 262.04C348.41 261.41 349.04 258.62 350.30 258.62C351.57 258.62 352.20 258.62 353.46 259.51C354.73 260.39 355.36 263.05 356.62 263.05C357.89 263.05 358.52 262.67 359.78 262.67C361.04 262.67 361.68 265.46 362.94 265.46C364.20 265.46 364.84 261.33 366.10 259.76C367.36 258.19 367.99 258.24 369.26 257.60C370.52 256.97 371.15 256.97 372.42 256.59C373.68 256.21 374.31 256.39 375.58 255.70C376.84 255.02 377.47 253.17 378.73 253.17C380.00 253.17 380.63 257.01 381.89 258.87C383.16 260.73 383.79 262.46 385.05 262.46C386.32 262.46 386.95 261.24 388.21 260.30C389.48 259.37 390.11 257.77 391.37 257.77C392.63 257.77 393.27 262.71 394.53 262.71C395.79 262.71 396.43 262.46 397.69 262.46C398.95 262.46 399.58 262.46 400.85 262.46C402.11 262.46 402.74 262.89 404.01 263.47C405.27 264.06 405.90 265.37 407.17 265.37C408.43 265.37 409.06 262.33 410.32 260.56C411.59 258.78 412.22 257.90 413.48 256.50C414.75 255.11 415.38 253.59 416.64 253.59C417.91 253.59 418.54 257.39 419.80 257.39C421.07 257.39 421.70 256.25 422.96 255.87C424.22 255.49 424.86 255.49 426.12 255.49C427.38 255.49 428.02 257.90 429.28 259.04C430.54 260.18 431.17 261.19 432.44 261.19C433.70 261.19 434.33 258.66 435.60 257.77C436.86 256.88 437.49 257.16 438.76 256.76C440.02 256.35 440.65 256.12 441.91 255.74C443.18 255.36 443.81 255.29 445.07 254.85C446.34 254.42 446.97 253.59 448.23 253.59C449.50 253.59 450.13 253.89 451.39 254.22C452.66 254.55 453.29 254.98 454.55 255.23C455.81 255.49 456.45 255.49 457.71 255.49C458.97 255.49 459.61 253.33 460.87 253.33C462.13 253.33 462.76 253.59 464.03 253.59C465.29 253.59 465.92 251.38 467.19 249.15C468.45 246.92 469.08 242.43 470.35 242.43C471.61 242.43 472.24 244.08 473.50 244.08C474.77 244.08 475.40 243.90 476.66 243.45C477.93 242.99 478.56 241.80 479.82 241.80C481.09 241.80 481.72 242.18 482.98 242.18C484.25 242.18 484.88 241.24 486.14 240.28C487.40 239.32 488.04 238.33 489.30 237.36C490.56 236.40 491.20 235.94 492.46 235.46C493.72 234.98 494.35 234.96 495.62 234.96C496.88 234.96 497.51 239.39 498.78 239.39C500.04 239.39 500.67 235.46 501.94 235.21C503.20 234.96 503.83 234.96 505.09 234.96C506.36 234.96 506.99 235.18 508.25 235.18C509.52 235.18 510.15 233.02 511.41 233.02C512.68 233.02 513.31 233.66 514.57 234.04C515.84 234.42 516.47 234.62 517.73 234.92C518.99 235.23 519.63 235.56 520.89 235.56C522.15 235.56 522.79 235.56 524.05 235.56C525.31 235.56 525.94 242.28 527.21 242.28C528.47 242.28 529.10 241.13 530.37 240.37C531.63 239.61 532.26 239.23 533.53 238.47C534.79 237.71 535.42 237.36 536.69 236.57C537.95 235.79 538.58 234.54 539.84 234.54C541.11 234.54 541.74 237.46 543.00 237.46C544.27 237.46 544.90 236.62 546.16 236.19C547.43 235.76 548.06 235.30 549.32 235.30C550.58 235.30 551.22 239.36 552.48 239.36C553.74 239.36 554.38 237.21 555.64 237.21C556.90 237.21 557.53 237.23 558.80 237.71C560.06 238.19 560.69 239.61 561.96 239.61C563.22 239.61 563.85 233.15 565.12 232.77C566.38 232.39 567.01 232.39 568.27 232.39C569.54 232.39 570.17 234.04 571.43 234.04C572.70 234.04 573.33 231.76 574.59 231.76C575.86 231.76 576.49 232.47 577.75 233.02C579.02 233.58 579.65 234.11 580.91 234.54C582.17 234.97 582.81 235.18 584.07 235.18C585.33 235.18 585.97 232.44 587.23 231.12C588.49 229.80 589.12 228.59 590.39 228.59C591.65 228.59 592.28 233.66 593.55 233.66C594.81 233.66 595.44 232.14 596.71 231.76C597.97 231.38 598.60 231.76 599.87 231.38C601.13 230.99 601.76 229.60 603.02 229.60C604.29 229.60 604.92 233.86 606.18 235.30C607.45 236.75 608.08 236.83 609.34 236.83C610.61 236.83 611.24 236.32 612.50 235.30C613.76 234.29 614.40 235.30 615.66 231.76C616.92 228.21 617.56 212.74 618.82 212.74C620.08 212.74 620.71 214.52 621.98 214.90C623.24 215.28 623.87 214.90 625.14 215.28C626.40 215.66 627.03 218.45 628.30 218.45C629.56 218.45 630.19 217.85 631.46 217.85C632.72 217.85 633.35 219.50 634.61 219.50C635.88 219.50 636.51 219.50 637.77 217.60C639.04 215.70 639.67 209.61 640.93 209.61C642.20 209.61 642.83 213.80 644.09 213.80C645.35 213.80 645.99 213.16 647.25 212.91C648.51 212.66 649.15 212.53 650.41 212.53C651.67 212.53 652.30 212.53 653.57 212.91C654.83 213.29 655.46 214.05 656.73 215.06C657.99 216.08 658.62 217.98 659.89 217.98C661.15 217.98 661.78 216.33 663.04 216.33C664.31 216.33 664.94 219.50 666.20 219.50C667.47 219.50 668.10 219.50 669.36 219.50C670.63 219.50 671.26 219.75 672.52 219.75C673.79 219.75 674.42 217.22 675.68 215.70C676.94 214.18 677.58 213.04 678.84 212.15C680.10 211.26 680.74 211.26 682.00 211.26C683.26 211.26 683.89 212.15 685.16 212.15C686.42 212.15 687.05 211.87 688.32 211.01C689.58 210.15 690.21 208.93 691.48 207.84C692.74 206.75 693.37 206.57 694.63 205.56C695.90 204.54 696.53 204.04 697.79 202.77C699.06 201.50 699.69 201.07 700.95 199.22C702.22 197.37 702.85 195.22 704.11 193.52C705.38 191.82 706.01 191.87 707.27 190.73C708.53 189.59 709.17 189.03 710.43 187.81C711.69 186.60 712.33 185.96 713.59 184.65C714.85 183.33 715.48 181.22 716.75 181.22C718.01 181.22 718.64 181.48 719.91 181.48C721.17 181.48 721.80 180.72 723.07 179.96C724.33 179.20 724.96 178.26 726.23 177.67C727.49 177.09 728.12 177.67 729.38 177.04C730.65 176.41 731.28 174.71 732.54 172.60C733.81 170.50 734.44 166.52 735.70 166.52C736.97 166.52 737.60 169.56 738.86 169.82C740.12 170.07 740.76 169.82 742.02 170.07C743.28 170.32 743.92 177.04 745.18 177.04C746.44 177.04 747.07 174.78 748.34 173.65C749.60 172.52 750.23 173.65 751.50 171.40C752.76 169.16 753.39 150.44 754.66 150.44C755.92 150.44 756.55 151.94 757.82 151.94C759.08 151.94 759.71 148.64 760.97 148.64C762.24 148.64 762.87 149.18 764.13 150.44C765.40 151.70 766.03 154.93 767.29 154.93C768.56 154.93 769.19 148.04 770.45 145.20C771.71 142.35 772.35 143.70 773.61 140.70C774.87 137.71 775.51 132.47 776.77 130.22C778.03 127.97 778.66 129.68 779.93 127.97C781.19 126.26 781.82 123.33 783.09 121.68C784.35 120.03 784.98 119.73 786.25 119.73C787.51 119.73 788.14 119.79 789.40 120.18C790.67 120.57 791.30 121.68 792.56 121.68C793.83 121.68 794.46 116.29 795.72 116.29C796.99 116.29 797.62 116.29 798.88 116.29C800.15 116.29 800.78 117.70 802.04 118.24C803.30 118.78 803.94 118.99 805.20 118.99C806.46 118.99 807.10 108.58 808.36 105.00C809.62 101.42 810.25 102.57 811.52 101.11C812.78 99.64 813.41 98.56 814.68 97.66C815.94 96.76 816.57 96.61 817.84 96.61C819.10 96.61 819.73 102.90 821.00 102.90C822.26 102.90 822.89 99.91 824.15 97.66C825.42 95.41 826.05 94.76 827.31 91.67C828.58 88.58 829.21 85.83 830.47 82.23C831.74 78.64 832.37 74.75 833.63 73.70C834.89 72.65 835.53 72.65 836.79 72.65C838.05 72.65 838.69 73.49 839.95 74.15C841.21 74.81 841.84 75.94 843.11 75.94C844.37 75.94 845.00 74.75 846.27 74.75C847.53 74.75 848.16 78.94 849.43 78.94C850.69 78.94 851.32 73.91 852.59 72.20C853.85 70.49 854.48 71.09 855.74 70.40C857.01 69.71 857.64 68.76 858.90 68.76C860.17 68.76 860.80 69.20 862.06 69.20C863.33 69.20 863.96 68.76 865.22 68.46C866.48 68.16 867.12 67.71 868.38 67.71C869.64 67.71 870.28 67.71 871.54 67.71C872.80 67.71 873.43 54.23 874.70 54.23C875.96 54.23 876.59 58.72 877.86 58.72C879.12 58.72 879.75 50.78 881.02 50.78C882.28 50.78 882.91 51.68 884.17 51.68C885.44 51.68 886.07 48.93 887.33 47.19C888.60 45.45 889.23 43.00 890.49 43.00C891.76 43.00 892.39 62.11 893.65 69.95C894.92 77.80 895.55 78.04 896.81 82.23C898.07 86.43 898.71 90.92 899.97 90.92C901.23 90.92 901.87 90.17 903.13 90.17C904.39 90.17 905.02 93.92 906.29 93.92C907.55 93.92 908.18 91.97 909.45 90.17C910.71 88.38 911.34 84.93 912.61 84.93C913.87 84.93 914.50 87.78 915.76 89.12C917.03 90.47 917.66 91.01 918.92 91.67C920.19 92.33 920.82 91.67 922.08 92.42C923.35 93.17 923.98 102.15 925.24 102.15C926.51 102.15 927.14 102.15 928.40 101.70C929.66 101.26 930.30 101.70 931.56 99.88C932.82 98.06 933.46 57.95 934.72 57.95C935.98 57.95 936.61 59.15 937.88 59.15C939.14 59.15 939.77 57.38 941.04 56.75C942.30 56.12 942.93 56.00 944.20 56.00C945.46 56.00 946.09 57.26 947.36 59.45C948.62 61.63 949.25 66.94 950.51 66.94C951.78 66.94 952.41 58.10 953.67 56.90C954.94 55.70 955.57 55.70 956.83 55.70C958.10 55.70 958.73 56.75 959.99 56.75C961.25 56.75 961.89 51.27 963.15 48.21C964.41 45.16 965.05 44.77 966.31 41.47C967.57 38.18 968.20 31.74 969.47 31.74C970.73 31.74 971.36 31.74 972.63 35.03C973.89 38.33 974.52 59.75 975.79 60.94C977.05 62.14 977.68 61.69 978.94 62.14C980.21 62.59 980.84 62.14 982.10 63.19C983.37 64.24 984.00 67.68 985.26 67.68C986.53 67.68 987.16 67.23 988.42 67.23C989.69 67.23 990.32 69.48 991.58 69.48C992.84 69.48 993.48 68.28 994.74 67.23C996.00 66.19 996.64 64.84 997.90 64.24C999.16 63.64 999.79 63.64 1001.06 63.64C1002.32 63.64 1002.95 66.19 1004.22 66.19C1005.48 66.19 1006.11 65.44 1007.38 64.69C1008.64 63.94 1009.27 63.34 1010.53 62.44C1011.80 61.54 1012.43 61.15 1013.69 60.20C1014.96 59.24 1015.59 58.40 1016.85 57.65C1018.12 56.90 1020.01 56.45 1020.01 56.45L1020.01 311.40L15.45 311.40Z" fill="rgba(150,195,35,0.21)" stroke="none"/>
<path d="M15.45 305.74C15.45 305.74 17.35 305.74 18.61 305.49C19.87 305.24 20.50 304.48 21.77 304.48C23.03 304.48 23.66 304.73 24.93 304.73C26.19 304.73 26.82 304.73 28.09 304.73C29.35 304.73 29.98 305.79 31.24 306.38C32.51 306.96 33.14 307.32 34.40 307.65C35.67 307.97 36.30 308.03 37.56 308.03C38.83 308.03 39.46 306.53 40.72 305.74C41.99 304.96 42.62 304.10 43.88 304.10C45.14 304.10 45.78 304.48 47.04 304.48C48.30 304.48 48.94 303.84 50.20 303.84C51.46 303.84 52.09 304.22 53.36 304.22C54.62 304.22 55.25 303.84 56.52 303.84C57.78 303.84 58.41 303.84 59.68 304.22C60.94 304.60 61.57 307.39 62.83 307.39C64.10 307.39 64.73 307.26 65.99 307.01C67.26 306.76 67.89 306.12 69.15 306.12C70.42 306.12 71.05 306.12 72.31 306.12C73.58 306.12 74.21 306.45 75.47 306.76C76.73 307.06 77.37 307.65 78.63 307.65C79.89 307.65 80.53 305.11 81.79 305.11C83.05 305.11 83.68 305.36 84.95 305.74C86.21 306.12 86.84 307.01 88.11 307.01C89.37 307.01 90.00 306.63 91.27 306.63C92.53 306.63 93.16 307.01 94.42 307.01C95.69 307.01 96.32 306.88 97.58 306.38C98.85 305.87 99.48 304.48 100.74 304.48C102.01 304.48 102.64 305.11 103.90 305.49C105.17 305.87 105.80 306.38 107.06 306.38C108.32 306.38 108.96 305.49 110.22 305.49C111.48 305.49 112.12 306.00 113.38 306.00C114.64 306.00 115.27 305.11 116.54 305.11C117.80 305.11 118.43 305.11 119.70 305.11C120.96 305.11 121.59 305.49 122.86 305.74C124.12 306.00 124.75 306.38 126.02 306.38C127.28 306.38 127.91 306.38 129.17 306.38C130.44 306.38 131.07 305.92 132.33 305.49C133.60 305.06 134.23 304.22 135.49 304.22C136.76 304.22 137.39 304.48 138.65 304.48C139.91 304.48 140.55 304.02 141.81 303.84C143.07 303.67 143.71 303.59 144.97 303.59C146.23 303.59 146.86 303.72 148.13 303.84C149.39 303.97 150.02 304.10 151.29 304.22C152.55 304.35 153.18 304.38 154.45 304.48C155.71 304.58 156.34 304.65 157.60 304.73C158.87 304.81 159.50 304.86 160.76 304.86C162.03 304.86 162.66 304.48 163.92 304.48C165.19 304.48 165.82 305.11 167.08 305.11C168.35 305.11 168.98 305.11 170.24 305.11C171.50 305.11 172.14 304.98 173.40 304.86C174.66 304.73 175.30 304.60 176.56 304.48C177.82 304.35 178.45 304.30 179.72 304.22C180.98 304.15 181.61 304.17 182.88 304.10C184.14 304.02 184.77 303.84 186.04 303.84C187.30 303.84 187.93 304.02 189.19 304.22C190.46 304.43 191.09 304.86 192.35 304.86C193.62 304.86 194.25 304.22 195.51 304.22C196.78 304.22 197.41 305.49 198.67 305.49C199.94 305.49 200.57 304.86 201.83 304.48C203.09 304.10 203.73 303.59 204.99 303.59C206.25 303.59 206.89 304.17 208.15 304.48C209.41 304.78 210.04 305.11 211.31 305.11C212.57 305.11 213.20 304.86 214.47 304.86C215.73 304.86 216.36 306.76 217.63 306.76C218.89 306.76 219.52 304.86 220.78 304.48C222.05 304.10 222.68 304.10 223.94 304.10C225.21 304.10 225.84 305.11 227.10 305.11C228.37 305.11 229.00 304.22 230.26 304.22C231.53 304.22 232.16 304.22 233.42 304.22C234.68 304.22 235.32 303.84 236.58 303.84C237.84 303.84 238.48 304.86 239.74 305.11C241.00 305.36 241.63 305.19 242.90 305.36C244.16 305.54 244.79 305.67 246.06 306.00C247.32 306.33 247.95 306.61 249.22 307.01C250.48 307.42 251.11 308.03 252.37 308.03C253.64 308.03 254.27 307.85 255.53 307.65C256.80 307.44 257.43 307.19 258.69 307.01C259.96 306.83 260.59 306.88 261.85 306.76C263.12 306.63 263.75 306.38 265.01 306.38C266.27 306.38 266.91 306.76 268.17 307.01C269.43 307.26 270.07 307.44 271.33 307.65C272.59 307.85 273.22 308.03 274.49 308.03C275.75 308.03 276.38 307.65 277.65 307.65C278.91 307.65 279.54 307.65 280.81 307.65C282.07 307.65 282.70 308.10 283.96 308.28C285.23 308.46 285.86 308.46 287.12 308.53C288.39 308.61 289.02 308.53 290.28 308.66C291.55 308.79 292.18 309.04 293.44 309.17C294.71 309.29 295.34 309.29 296.60 309.29C297.86 309.29 298.50 309.29 299.76 309.29C301.02 309.29 301.66 309.80 302.92 309.80C304.18 309.80 304.81 309.55 306.08 309.55C307.34 309.55 307.97 309.80 309.24 309.80C310.50 309.80 311.13 309.55 312.40 309.55C313.66 309.55 314.29 310.18 315.55 310.18C316.82 310.18 317.45 310.18 318.71 310.18C319.98 310.18 320.61 310.00 321.87 309.93C323.14 309.85 323.77 309.80 325.03 309.80C326.30 309.80 326.93 309.80 328.19 309.80C329.45 309.80 330.09 309.55 331.35 309.55C332.61 309.55 333.25 309.55 334.51 309.55C335.77 309.55 336.40 309.60 337.67 309.80C338.93 310.00 339.56 310.31 340.83 310.56C342.09 310.81 342.72 311.07 343.99 311.07C345.25 311.07 345.88 310.81 347.14 310.81C348.41 310.81 349.04 311.45 350.30 311.45C351.57 311.45 352.20 311.45 353.46 311.45C354.73 311.45 355.36 311.27 356.62 311.19C357.89 311.12 358.52 311.14 359.78 311.07C361.04 310.99 361.68 310.81 362.94 310.81C364.20 310.81 364.84 311.19 366.10 311.19C367.36 311.19 367.99 311.02 369.26 310.81C370.52 310.61 371.15 310.48 372.42 310.18C373.68 309.88 374.31 309.29 375.58 309.29C376.84 309.29 377.47 310.81 378.73 310.81C380.00 310.81 380.63 310.38 381.89 310.18C383.16 309.98 383.79 309.98 385.05 309.80C386.32 309.62 386.95 309.52 388.21 309.29C389.48 309.06 390.11 308.86 391.37 308.66C392.63 308.46 393.27 308.28 394.53 308.28C395.79 308.28 396.43 308.28 397.69 308.28C398.95 308.28 399.58 308.10 400.85 308.03C402.11 307.95 402.74 307.90 404.01 307.90C405.27 307.90 405.90 308.03 407.17 308.03C408.43 308.03 409.06 308.03 410.32 308.03C411.59 308.03 412.22 308.03 413.48 307.90C414.75 307.77 415.38 306.66 416.64 306.00C417.91 305.34 418.54 304.73 419.80 304.60C421.07 304.48 421.70 304.48 422.96 304.48C424.22 304.48 424.86 304.53 426.12 304.56C427.38 304.59 428.02 304.61 429.28 304.65C430.54 304.68 431.17 304.73 432.44 304.73C433.70 304.73 434.33 304.73 435.60 304.73C436.86 304.73 437.49 304.73 438.76 304.73C440.02 304.73 440.65 304.73 441.91 304.73C443.18 304.73 443.81 304.68 445.07 304.65C446.34 304.61 446.97 304.59 448.23 304.56C449.50 304.53 450.13 304.54 451.39 304.48C452.66 304.42 453.29 304.35 454.55 304.27C455.81 304.18 456.45 304.14 457.71 304.05C458.97 303.97 459.61 303.91 460.87 303.84C462.13 303.78 462.76 303.77 464.03 303.72C465.29 303.67 465.92 303.64 467.19 303.59C468.45 303.54 469.08 303.46 470.35 303.46C471.61 303.46 472.24 303.54 473.50 303.59C474.77 303.64 475.40 303.67 476.66 303.72C477.93 303.77 478.56 303.84 479.82 303.84C481.09 303.84 481.72 303.79 482.98 303.76C484.25 303.72 484.88 303.71 486.14 303.67C487.40 303.64 488.04 303.63 489.30 303.59C490.56 303.55 491.20 303.51 492.46 303.46C493.72 303.41 494.35 303.39 495.62 303.34C496.88 303.29 497.51 303.21 498.78 303.21C500.04 303.21 500.67 303.21 501.94 303.21C503.20 303.21 503.83 303.21 505.09 303.21C506.36 303.21 506.99 303.21 508.25 303.21C509.52 303.21 510.15 303.23 511.41 303.25C512.68 303.27 513.31 303.27 514.57 303.29C515.84 303.31 516.47 303.33 517.73 303.33C518.99 303.33 519.63 301.05 520.89 301.05C522.15 301.05 522.79 301.89 524.05 302.32C525.31 302.75 525.94 303.21 527.21 303.21C528.47 303.21 529.10 303.21 530.37 303.21C531.63 303.21 532.26 303.21 533.53 303.21C534.79 303.21 535.42 303.21 536.69 303.21C537.95 303.21 538.58 303.05 539.84 302.95C541.11 302.85 541.74 302.80 543.00 302.70C544.27 302.60 544.90 302.45 546.16 302.45C547.43 302.45 548.06 302.50 549.32 302.53C550.58 302.56 551.22 302.58 552.48 302.62C553.74 302.65 554.38 302.70 555.64 302.70C556.90 302.70 557.53 302.60 558.80 302.53C560.06 302.46 560.69 302.43 561.96 302.36C563.22 302.29 563.85 302.24 565.12 302.19C566.38 302.14 567.01 302.14 568.27 302.11C569.54 302.07 570.17 302.06 571.43 302.02C572.70 301.99 573.33 301.97 574.59 301.94C575.86 301.91 576.49 301.89 577.75 301.85C579.02 301.82 579.65 301.80 580.91 301.77C582.17 301.74 582.81 301.69 584.07 301.69C585.33 301.69 585.97 303.59 587.23 303.59C588.49 303.59 589.12 301.94 590.39 301.94C591.65 301.94 592.28 304.85 593.55 304.85C594.81 304.85 595.44 304.85 596.71 304.85C597.97 304.85 598.60 304.85 599.87 304.85C601.13 304.85 601.76 304.85 603.02 304.85C604.29 304.85 604.92 304.85 606.18 304.85C607.45 304.85 608.08 304.85 609.34 304.85C610.61 304.85 611.24 304.85 612.50 304.85C613.76 304.85 614.40 304.85 615.66 304.85C616.92 304.85 617.56 304.85 618.82 304.85C620.08 304.85 620.71 304.85 621.98 304.85C623.24 304.85 623.87 304.73 625.14 304.64C626.40 304.56 627.03 304.52 628.30 304.43C629.56 304.35 630.19 304.31 631.46 304.22C632.72 304.14 633.35 304.09 634.61 304.01C635.88 303.92 636.51 303.88 637.77 303.80C639.04 303.71 639.67 303.59 640.93 303.59C642.20 303.59 642.83 303.71 644.09 303.80C645.35 303.88 645.99 303.92 647.25 304.01C648.51 304.09 649.15 304.16 650.41 304.22C651.67 304.28 652.30 304.27 653.57 304.31C654.83 304.34 655.46 304.36 656.73 304.39C657.99 304.42 658.62 304.42 659.89 304.47C661.15 304.52 661.78 304.58 663.04 304.64C664.31 304.71 664.94 304.74 666.20 304.81C667.47 304.88 668.10 304.87 669.36 304.98C670.63 305.09 671.26 305.21 672.52 305.36C673.79 305.51 674.42 305.59 675.68 305.74C676.94 305.89 677.58 306.12 678.84 306.12C680.10 306.12 680.74 306.05 682.00 305.99C683.26 305.94 683.89 305.92 685.16 305.87C686.42 305.82 687.05 305.82 688.32 305.74C689.58 305.67 690.21 305.59 691.48 305.49C692.74 305.39 693.37 305.34 694.63 305.23C695.90 305.13 696.53 305.05 697.79 304.98C699.06 304.91 699.69 304.93 700.95 304.90C702.22 304.86 702.85 304.85 704.11 304.81C705.38 304.78 706.01 304.73 707.27 304.73C708.53 304.73 709.17 304.90 710.43 305.02C711.69 305.14 712.33 305.20 713.59 305.32C714.85 305.44 715.48 305.54 716.75 305.61C718.01 305.69 718.64 305.67 719.91 305.70C721.17 305.73 721.80 305.75 723.07 305.78C724.33 305.82 724.96 305.87 726.23 305.87C727.49 305.87 728.12 305.74 729.38 305.66C730.65 305.57 731.28 305.53 732.54 305.45C733.81 305.36 734.44 305.32 735.70 305.23C736.97 305.15 737.60 305.11 738.86 305.02C740.12 304.94 740.76 304.90 742.02 304.81C743.28 304.73 743.92 304.60 745.18 304.60C746.44 304.60 747.07 304.68 748.34 304.73C749.60 304.78 750.23 304.80 751.50 304.85C752.76 304.90 753.39 304.98 754.66 304.98C755.92 304.98 756.55 304.83 757.82 304.73C759.08 304.63 759.71 304.58 760.97 304.47C762.24 304.37 762.87 304.22 764.13 304.22C765.40 304.22 766.03 304.40 767.29 304.52C768.56 304.63 769.19 304.69 770.45 304.81C771.71 304.93 772.35 305.11 773.61 305.11C774.87 305.11 775.51 304.85 776.77 304.69C778.03 304.52 778.66 304.43 779.93 304.26C781.19 304.09 781.82 303.84 783.09 303.84C784.35 303.84 784.98 303.84 786.25 303.84C787.51 303.84 788.14 303.84 789.40 303.84C790.67 303.84 791.30 303.84 792.56 303.84C793.83 303.84 794.46 303.94 795.72 304.01C796.99 304.08 797.62 304.11 798.88 304.18C800.15 304.25 800.78 304.35 802.04 304.35C803.30 304.35 803.94 304.35 805.20 304.35C806.46 304.35 807.10 304.35 808.36 304.35C809.62 304.35 810.25 304.35 811.52 304.35C812.78 304.35 813.41 304.32 814.68 304.31C815.94 304.29 816.57 304.28 817.84 304.26C819.10 304.25 819.73 304.22 821.00 304.22C822.26 304.22 822.89 304.60 824.15 304.85C825.42 305.11 826.05 305.16 827.31 305.49C828.58 305.82 829.21 306.25 830.47 306.50C831.74 306.76 832.37 306.76 833.63 306.76C834.89 306.76 835.53 306.76 836.79 306.25C838.05 305.74 838.69 303.59 839.95 303.59C841.21 303.59 841.84 303.66 843.11 303.71C844.37 303.76 845.00 303.79 846.27 303.84C847.53 303.89 848.16 303.84 849.43 303.97C850.69 304.09 851.32 304.27 852.59 304.47C853.85 304.68 854.48 304.78 855.74 304.98C857.01 305.18 857.64 305.32 858.90 305.49C860.17 305.66 860.80 305.69 862.06 305.83C863.33 305.96 863.96 306.03 865.22 306.16C866.48 306.30 867.12 306.50 868.38 306.50C869.64 306.50 870.28 306.35 871.54 306.25C872.80 306.15 873.43 306.10 874.70 305.99C875.96 305.89 876.59 305.81 877.86 305.74C879.12 305.67 879.75 305.69 881.02 305.66C882.28 305.62 882.91 305.61 884.17 305.57C885.44 305.54 886.07 305.49 887.33 305.49C888.60 305.49 889.23 305.61 890.49 305.70C891.76 305.78 892.39 305.83 893.65 305.91C894.92 305.99 895.55 306.06 896.81 306.12C898.07 306.18 898.71 306.17 899.97 306.21C901.23 306.24 901.87 306.26 903.13 306.29C904.39 306.32 905.02 306.33 906.29 306.38C907.55 306.42 908.18 306.45 909.45 306.50C910.71 306.55 911.34 306.58 912.61 306.63C913.87 306.68 914.50 306.70 915.76 306.76C917.03 306.81 917.66 306.83 918.92 306.88C920.19 306.93 920.82 306.96 922.08 307.01C923.35 307.06 923.98 307.14 925.24 307.14C926.51 307.14 927.14 306.73 928.40 306.46C929.66 306.19 930.30 306.05 931.56 305.78C932.82 305.51 933.46 305.11 934.72 305.11C935.98 305.11 936.61 305.23 937.88 305.32C939.14 305.40 939.77 305.45 941.04 305.53C942.30 305.61 942.93 305.74 944.20 305.74C945.46 305.74 946.09 305.74 947.36 305.74C948.62 305.74 949.25 305.74 950.51 305.74C951.78 305.74 952.41 305.74 953.67 305.74C954.94 305.74 955.57 305.69 956.83 305.66C958.10 305.62 958.73 305.61 959.99 305.57C961.25 305.54 961.89 305.57 963.15 305.49C964.41 305.40 965.05 305.11 966.31 304.85C967.57 304.60 968.20 304.47 969.47 304.22C970.73 303.97 971.36 303.59 972.63 303.59C973.89 303.59 974.52 303.76 975.79 303.88C977.05 304.00 977.68 304.06 978.94 304.18C980.21 304.30 980.84 304.47 982.10 304.47C983.37 304.47 984.00 304.37 985.26 304.31C986.53 304.24 987.16 304.20 988.42 304.14C989.69 304.07 990.32 303.97 991.58 303.97C992.84 303.97 993.48 303.97 994.74 303.97C996.00 303.97 996.64 303.97 997.90 303.97C999.16 303.97 999.79 303.97 1001.06 303.97C1002.32 303.97 1002.95 304.52 1004.22 304.90C1005.48 305.27 1006.11 305.45 1007.38 305.83C1008.64 306.20 1009.27 306.76 1010.53 306.76C1011.80 306.76 1012.43 304.47 1013.69 304.47C1014.96 304.47 1015.59 305.03 1016.85 305.49C1018.12 305.94 1020.01 306.76 1020.01 306.76" fill="none" stroke="#f0604a" stroke-width="0.75" stroke-linejoin="round"/>
<g fill="#f0604a" stroke="rgba(255,255,255,0.6)" stroke-width="0.9"><circle cx="15.45" cy="305.74" r="1.95"/><circle cx="24.93" cy="304.73" r="1.95"/><circle cx="34.40" cy="307.65" r="1.95"/><circle cx="43.88" cy="304.10" r="1.95"/><circle cx="53.36" cy="304.22" r="1.95"/><circle cx="62.83" cy="307.39" r="1.95"/><circle cx="72.31" cy="306.12" r="1.95"/><circle cx="81.79" cy="305.11" r="1.95"/><circle cx="91.27" cy="306.63" r="1.95"/><circle cx="100.74" cy="304.48" r="1.95"/><circle cx="110.22" cy="305.49" r="1.95"/><circle cx="119.70" cy="305.11" r="1.95"/><circle cx="129.17" cy="306.38" r="1.95"/><circle cx="138.65" cy="304.48" r="1.95"/><circle cx="148.13" cy="303.84" r="1.95"/><circle cx="157.60" cy="304.73" r="1.95"/><circle cx="167.08" cy="305.11" r="1.95"/><circle cx="176.56" cy="304.48" r="1.95"/><circle cx="186.04" cy="303.84" r="1.95"/><circle cx="195.51" cy="304.22" r="1.95"/><circle cx="204.99" cy="303.59" r="1.95"/><circle cx="214.47" cy="304.86" r="1.95"/><circle cx="223.94" cy="304.10" r="1.95"/><circle cx="233.42" cy="304.22" r="1.95"/><circle cx="242.90" cy="305.36" r="1.95"/><circle cx="252.37" cy="308.03" r="1.95"/><circle cx="261.85" cy="306.76" r="1.95"/><circle cx="271.33" cy="307.65" r="1.95"/><circle cx="280.81" cy="307.65" r="1.95"/><circle cx="290.28" cy="308.66" r="1.95"/><circle cx="299.76" cy="309.29" r="1.95"/><circle cx="309.24" cy="309.80" r="1.95"/><circle cx="318.71" cy="310.18" r="1.95"/><circle cx="328.19" cy="309.80" r="1.95"/><circle cx="337.67" cy="309.80" r="1.95"/><circle cx="347.14" cy="310.81" r="1.95"/><circle cx="356.62" cy="311.19" r="1.95"/><circle cx="366.10" cy="311.19" r="1.95"/><circle cx="375.58" cy="309.29" r="1.95"/><circle cx="385.05" cy="309.80" r="1.95"/><circle cx="394.53" cy="308.28" r="1.95"/><circle cx="404.01" cy="307.90" r="1.95"/><circle cx="413.48" cy="307.90" r="1.95"/><circle cx="422.96" cy="304.48" r="1.95"/><circle cx="432.44" cy="304.73" r="1.95"/><circle cx="441.91" cy="304.73" r="1.95"/><circle cx="451.39" cy="304.48" r="1.95"/><circle cx="460.87" cy="303.84" r="1.95"/><circle cx="470.35" cy="303.46" r="1.95"/><circle cx="479.82" cy="303.84" r="1.95"/><circle cx="489.30" cy="303.59" r="1.95"/><circle cx="498.78" cy="303.21" r="1.95"/><circle cx="508.25" cy="303.21" r="1.95"/><circle cx="517.73" cy="303.33" r="1.95"/><circle cx="527.21" cy="303.21" r="1.95"/><circle cx="536.69" cy="303.21" r="1.95"/><circle cx="546.16" cy="302.45" r="1.95"/><circle cx="555.64" cy="302.70" r="1.95"/><circle cx="565.12" cy="302.19" r="1.95"/><circle cx="574.59" cy="301.94" r="1.95"/><circle cx="584.07" cy="301.69" r="1.95"/><circle cx="593.55" cy="304.85" r="1.95"/><circle cx="603.02" cy="304.85" r="1.95"/><circle cx="612.50" cy="304.85" r="1.95"/><circle cx="621.98" cy="304.85" r="1.95"/><circle cx="631.46" cy="304.22" r="1.95"/><circle cx="640.93" cy="303.59" r="1.95"/><circle cx="650.41" cy="304.22" r="1.95"/><circle cx="659.89" cy="304.47" r="1.95"/><circle cx="669.36" cy="304.98" r="1.95"/><circle cx="678.84" cy="306.12" r="1.95"/><circle cx="688.32" cy="305.74" r="1.95"/><circle cx="697.79" cy="304.98" r="1.95"/><circle cx="707.27" cy="304.73" r="1.95"/><circle cx="716.75" cy="305.61" r="1.95"/><circle cx="726.23" cy="305.87" r="1.95"/><circle cx="735.70" cy="305.23" r="1.95"/><circle cx="745.18" cy="304.60" r="1.95"/><circle cx="754.66" cy="304.98" r="1.95"/><circle cx="764.13" cy="304.22" r="1.95"/><circle cx="773.61" cy="305.11" r="1.95"/><circle cx="783.09" cy="303.84" r="1.95"/><circle cx="792.56" cy="303.84" r="1.95"/><circle cx="802.04" cy="304.35" r="1.95"/><circle cx="811.52" cy="304.35" r="1.95"/><circle cx="821.00" cy="304.22" r="1.95"/><circle cx="830.47" cy="306.50" r="1.95"/><circle cx="839.95" cy="303.59" r="1.95"/><circle cx="849.43" cy="303.97" r="1.95"/><circle cx="858.90" cy="305.49" r="1.95"/><circle cx="868.38" cy="306.50" r="1.95"/><circle cx="877.86" cy="305.74" r="1.95"/><circle cx="887.33" cy="305.49" r="1.95"/><circle cx="896.81" cy="306.12" r="1.95"/><circle cx="906.29" cy="306.38" r="1.95"/><circle cx="915.76" cy="306.76" r="1.95"/><circle cx="925.24" cy="307.14" r="1.95"/><circle cx="934.72" cy="305.11" r="1.95"/><circle cx="944.20" cy="305.74" r="1.95"/><circle cx="953.67" cy="305.74" r="1.95"/><circle cx="963.15" cy="305.49" r="1.95"/><circle cx="972.63" cy="303.59" r="1.95"/><circle cx="982.10" cy="304.47" r="1.95"/><circle cx="991.58" cy="303.97" r="1.95"/><circle cx="1001.06" cy="303.97" r="1.95"/><circle cx="1010.53" cy="306.76" r="1.95"/><circle cx="1020.01" cy="306.76" r="1.95"/></g>
<path d="M15.45 311.45C15.45 311.45 17.35 311.45 18.61 311.45C19.87 311.45 20.50 311.45 21.77 311.45C23.03 311.45 23.66 311.45 24.93 311.45C26.19 311.45 26.82 311.45 28.09 311.45C29.35 311.45 29.98 311.45 31.24 311.45C32.51 311.45 33.14 311.45 34.40 311.45C35.67 311.45 36.30 311.45 37.56 311.45C38.83 311.45 39.46 311.45 40.72 311.45C41.99 311.45 42.62 311.45 43.88 311.45C45.14 311.45 45.78 311.45 47.04 311.45C48.30 311.45 48.94 311.45 50.20 311.45C51.46 311.45 52.09 311.45 53.36 311.45C54.62 311.45 55.25 311.45 56.52 311.45C57.78 311.45 58.41 311.45 59.68 311.45C60.94 311.45 61.57 311.45 62.83 311.45C64.10 311.45 64.73 311.45 65.99 311.45C67.26 311.45 67.89 311.45 69.15 311.45C70.42 311.45 71.05 311.45 72.31 311.45C73.58 311.45 74.21 311.45 75.47 311.45C76.73 311.45 77.37 311.45 78.63 311.45C79.89 311.45 80.53 311.45 81.79 311.45C83.05 311.45 83.68 311.45 84.95 311.45C86.21 311.45 86.84 311.45 88.11 311.45C89.37 311.45 90.00 311.45 91.27 311.45C92.53 311.45 93.16 311.45 94.42 311.45C95.69 311.45 96.32 311.45 97.58 311.45C98.85 311.45 99.48 311.45 100.74 311.45C102.01 311.45 102.64 311.45 103.90 311.45C105.17 311.45 105.80 311.45 107.06 311.45C108.32 311.45 108.96 311.45 110.22 311.45C111.48 311.45 112.12 311.45 113.38 311.45C114.64 311.45 115.27 311.45 116.54 311.45C117.80 311.45 118.43 311.45 119.70 311.45C120.96 311.45 121.59 311.45 122.86 311.45C124.12 311.45 124.75 311.45 126.02 311.45C127.28 311.45 127.91 311.45 129.17 311.45C130.44 311.45 131.07 311.45 132.33 311.45C133.60 311.45 134.23 311.45 135.49 311.45C136.76 311.45 137.39 311.45 138.65 311.45C139.91 311.45 140.55 311.45 141.81 311.45C143.07 311.45 143.71 311.45 144.97 311.45C146.23 311.45 146.86 311.45 148.13 311.45C149.39 311.45 150.02 311.45 151.29 311.45C152.55 311.45 153.18 311.45 154.45 311.45C155.71 311.45 156.34 311.45 157.60 311.45C158.87 311.45 159.50 311.45 160.76 311.45C162.03 311.45 162.66 311.45 163.92 311.45C165.19 311.45 165.82 311.45 167.08 311.45C168.35 311.45 168.98 311.45 170.24 311.45C171.50 311.45 172.14 311.45 173.40 311.45C174.66 311.45 175.30 311.45 176.56 311.45C177.82 311.45 178.45 311.45 179.72 311.45C180.98 311.45 181.61 311.45 182.88 311.45C184.14 311.45 184.77 311.45 186.04 311.45C187.30 311.45 187.93 311.45 189.19 311.45C190.46 311.45 191.09 311.45 192.35 311.45C193.62 311.45 194.25 311.45 195.51 311.45C196.78 311.45 197.41 311.45 198.67 311.45C199.94 311.45 200.57 311.45 201.83 311.45C203.09 311.45 203.73 311.45 204.99 311.45C206.25 311.45 206.89 311.37 208.15 311.32C209.41 311.27 210.04 311.24 211.31 311.19C212.57 311.14 213.20 311.12 214.47 311.07C215.73 311.02 216.36 310.99 217.63 310.94C218.89 310.89 219.52 310.81 220.78 310.81C222.05 310.81 222.68 310.81 223.94 310.81C225.21 310.81 225.84 310.74 227.10 310.69C228.37 310.64 229.00 310.61 230.26 310.56C231.53 310.51 232.16 310.56 233.42 310.43C234.68 310.31 235.32 310.08 236.58 309.80C237.84 309.52 238.48 309.17 239.74 309.04C241.00 308.91 241.63 308.99 242.90 308.91C244.16 308.84 244.79 308.66 246.06 308.66C247.32 308.66 247.95 309.80 249.22 309.80C250.48 309.80 251.11 309.72 252.37 309.55C253.64 309.37 254.27 309.37 255.53 308.91C256.80 308.46 257.43 307.70 258.69 307.26C259.96 306.83 260.59 307.26 261.85 306.76C263.12 306.26 263.75 305.33 265.01 304.75C266.27 304.17 266.91 304.35 268.17 303.87C269.43 303.38 270.07 302.98 271.33 302.34C272.59 301.71 273.22 301.23 274.49 300.70C275.75 300.16 276.38 300.01 277.65 299.68C278.91 299.35 279.54 299.23 280.81 299.05C282.07 298.87 282.70 298.87 283.96 298.80C285.23 298.72 285.86 298.72 287.12 298.67C288.39 298.62 289.02 298.62 290.28 298.54C291.55 298.47 292.18 298.37 293.44 298.29C294.71 298.21 295.34 298.24 296.60 298.16C297.86 298.09 298.50 297.91 299.76 297.91C301.02 297.91 301.66 297.98 302.92 298.04C304.18 298.09 304.81 298.16 306.08 298.16C307.34 298.16 307.97 298.16 309.24 298.16C310.50 298.16 311.13 298.42 312.40 298.54C313.66 298.67 314.29 298.80 315.55 298.80C316.82 298.80 317.45 298.80 318.71 298.80C319.98 298.80 320.61 298.80 321.87 298.80C323.14 298.80 323.77 298.72 325.03 298.67C326.30 298.62 326.93 298.67 328.19 298.54C329.45 298.42 330.09 297.53 331.35 297.15C332.61 296.77 333.25 296.64 334.51 296.64C335.77 296.64 336.40 297.15 337.67 297.15C338.93 297.15 339.56 296.57 340.83 296.26C342.09 295.96 342.72 295.93 343.99 295.63C345.25 295.32 345.88 294.74 347.14 294.74C348.41 294.74 349.04 296.26 350.30 296.89C351.57 297.53 352.20 297.91 353.46 297.91C354.73 297.91 355.36 297.02 356.62 297.02C357.89 297.02 358.52 297.17 359.78 297.28C361.04 297.38 361.68 297.53 362.94 297.53C364.20 297.53 364.84 294.99 366.10 293.85C367.36 292.71 367.99 292.53 369.26 291.83C370.52 291.12 371.15 290.76 372.42 290.30C373.68 289.85 374.31 289.54 375.58 289.54C376.84 289.54 377.47 289.67 378.73 289.92C380.00 290.18 380.63 290.56 381.89 290.81C383.16 291.06 383.79 290.99 385.05 291.19C386.32 291.39 386.95 291.83 388.21 291.83C389.48 291.83 390.11 291.65 391.37 291.19C392.63 290.74 393.27 289.54 394.53 289.54C395.79 289.54 396.43 290.30 397.69 290.30C398.95 290.30 399.58 289.67 400.85 289.29C402.11 288.91 402.74 288.78 404.01 288.40C405.27 288.02 405.90 287.39 407.17 287.39C408.43 287.39 409.06 289.29 410.32 289.29C411.59 289.29 412.22 288.40 413.48 287.77C414.75 287.14 415.38 286.70 416.64 286.12C417.91 285.54 418.54 285.29 419.80 284.85C421.07 284.42 421.70 284.22 422.96 283.97C424.22 283.71 424.86 283.92 426.12 283.59C427.38 283.26 428.02 282.70 429.28 282.32C430.54 281.94 431.17 282.19 432.44 281.69C433.70 281.18 434.33 280.60 435.60 279.78C436.86 278.97 437.49 277.63 438.76 277.63C440.02 277.63 440.65 279.15 441.91 279.15C443.18 279.15 443.81 277.88 445.07 277.25C446.34 276.62 446.97 275.98 448.23 275.98C449.50 275.98 450.13 276.62 451.39 276.62C452.66 276.62 453.29 276.62 454.55 276.62C455.81 276.62 456.45 276.41 457.71 275.98C458.97 275.55 459.61 275.10 460.87 274.46C462.13 273.83 462.76 273.07 464.03 272.81C465.29 272.56 465.92 272.81 467.19 272.56C468.45 272.31 469.08 269.85 470.35 268.76C471.61 267.67 472.24 267.62 473.50 267.11C474.77 266.60 475.40 266.22 476.66 266.22C477.93 266.22 478.56 267.36 479.82 267.74C481.09 268.12 481.72 268.12 482.98 268.12C484.25 268.12 484.88 267.31 486.14 266.48C487.40 265.64 488.04 264.63 489.30 263.94C490.56 263.26 491.20 263.36 492.46 263.05C493.72 262.75 494.35 262.42 495.62 262.42C496.88 262.42 497.51 264.32 498.78 264.32C500.04 264.32 500.67 263.21 501.94 262.67C503.20 262.14 503.83 261.82 505.09 261.66C506.36 261.50 506.99 261.66 508.25 261.50C509.52 261.34 510.15 260.56 511.41 260.23C512.68 259.90 513.31 260.01 514.57 259.85C515.84 259.70 516.47 259.47 517.73 259.47C518.99 259.47 519.63 260.03 520.89 260.23C522.15 260.44 522.79 260.36 524.05 260.49C525.31 260.61 525.94 260.87 527.21 260.87C528.47 260.87 529.10 259.30 530.37 258.21C531.63 257.12 532.26 255.80 533.53 255.42C534.79 255.04 535.42 255.34 536.69 255.04C537.95 254.73 538.58 254.53 539.84 253.90C541.11 253.26 541.74 252.45 543.00 251.87C544.27 251.29 544.90 251.34 546.16 250.98C547.43 250.63 548.06 250.10 549.32 250.10C550.58 250.10 551.22 250.35 552.48 250.73C553.74 251.11 554.38 251.74 555.64 252.00C556.90 252.25 557.53 252.12 558.80 252.25C560.06 252.38 560.69 252.63 561.96 252.63C563.22 252.63 563.85 252.58 565.12 252.50C566.38 252.43 567.01 252.43 568.27 252.25C569.54 252.07 570.17 251.62 571.43 251.62C572.70 251.62 573.33 254.53 574.59 254.53C575.86 254.53 576.49 253.01 577.75 252.25C579.02 251.49 579.65 251.24 580.91 250.73C582.17 250.22 582.81 250.17 584.07 249.71C585.33 249.26 585.97 249.46 587.23 248.45C588.49 247.43 589.12 246.12 590.39 244.65C591.65 243.17 592.28 242.31 593.55 241.10C594.81 239.88 595.44 239.25 596.71 238.56C597.97 237.88 598.60 237.93 599.87 237.67C601.13 237.42 601.76 237.47 603.02 237.29C604.29 237.12 604.92 236.79 606.18 236.79C607.45 236.79 608.08 236.91 609.34 237.29C610.61 237.67 611.24 238.69 612.50 238.69C613.76 238.69 614.40 238.05 615.66 238.05C616.92 238.05 617.56 238.94 618.82 239.58C620.08 240.21 620.71 241.22 621.98 241.22C623.24 241.22 623.87 239.52 625.14 238.69C626.40 237.85 627.03 237.04 628.30 237.04C629.56 237.04 630.19 237.46 631.46 237.46C632.72 237.46 633.35 236.57 634.61 236.19C635.88 235.81 636.51 235.56 637.77 235.56C639.04 235.56 639.67 236.19 640.93 236.19C642.20 236.19 642.83 233.02 644.09 233.02C645.35 233.02 645.99 233.33 647.25 233.66C648.51 233.99 649.15 234.34 650.41 234.67C651.67 235.00 652.30 235.30 653.57 235.30C654.83 235.30 655.46 234.82 656.73 233.02C657.99 231.22 658.62 226.31 659.89 226.31C661.15 226.31 661.78 226.94 663.04 226.94C664.31 226.94 664.94 225.16 666.20 225.16C667.47 225.16 668.10 225.16 669.36 225.16C670.63 225.16 671.26 225.42 672.52 225.42C673.79 225.42 674.42 224.66 675.68 224.40C676.94 224.15 677.58 224.25 678.84 224.15C680.10 224.05 680.74 223.90 682.00 223.90C683.26 223.90 683.89 224.73 685.16 226.69C686.42 228.64 687.05 233.28 688.32 233.66C689.58 234.04 690.21 234.04 691.48 234.04C692.74 234.04 693.37 233.10 694.63 232.39C695.90 231.68 696.53 231.12 697.79 230.49C699.06 229.85 699.69 229.73 700.95 229.22C702.22 228.71 702.85 227.95 704.11 227.95C705.38 227.95 706.01 228.08 707.27 228.59C708.53 229.09 709.17 230.49 710.43 230.49C711.69 230.49 712.33 229.90 713.59 229.47C714.85 229.04 715.48 228.33 716.75 228.33C718.01 228.33 718.64 228.59 719.91 228.59C721.17 228.59 721.80 228.38 723.07 227.32C724.33 226.25 724.96 224.53 726.23 223.26C727.49 222.00 728.12 221.62 729.38 220.98C730.65 220.35 731.28 220.48 732.54 220.10C733.81 219.71 734.44 219.46 735.70 219.08C736.97 218.70 737.60 218.19 738.86 218.19C740.12 218.19 740.76 219.46 742.02 219.46C743.28 219.46 743.92 214.10 745.18 214.10C746.44 214.10 747.07 214.70 748.34 214.70C749.60 214.70 750.23 212.96 751.50 211.70C752.76 210.45 753.39 209.28 754.66 208.41C755.92 207.54 756.55 207.66 757.82 207.36C759.08 207.06 759.71 206.91 760.97 206.91C762.24 206.91 762.87 211.40 764.13 211.40C765.40 211.40 766.03 209.31 767.29 207.66C768.56 206.01 769.19 204.61 770.45 203.17C771.71 201.73 772.35 201.28 773.61 200.47C774.87 199.66 775.51 199.57 776.77 199.12C778.03 198.67 778.66 198.91 779.93 198.23C781.19 197.54 781.82 196.79 783.09 195.68C784.35 194.57 784.98 192.68 786.25 192.68C787.51 192.68 788.14 193.13 789.40 193.13C790.67 193.13 791.30 190.08 792.56 188.49C793.83 186.90 794.46 186.45 795.72 185.20C796.99 183.94 797.62 182.20 798.88 182.20C800.15 182.20 800.78 182.86 802.04 183.25C803.30 183.64 803.94 184.15 805.20 184.15C806.46 184.15 807.10 183.55 808.36 180.70C809.62 177.86 810.25 172.17 811.52 169.92C812.78 167.67 813.41 168.42 814.68 167.67C815.94 166.92 816.57 166.17 817.84 166.17C819.10 166.17 819.73 168.27 821.00 168.72C822.26 169.17 822.89 169.17 824.15 169.17C825.42 169.17 826.05 168.15 827.31 167.22C828.58 166.29 829.21 166.03 830.47 164.53C831.74 163.03 832.37 161.20 833.63 159.73C834.89 158.27 835.53 158.00 836.79 157.19C838.05 156.38 838.69 156.55 839.95 155.70C841.21 154.84 841.84 152.91 843.11 152.91C844.37 152.91 845.00 153.80 846.27 153.80C847.53 153.80 848.16 151.84 849.43 151.01C850.69 150.17 851.32 149.61 852.59 149.61C853.85 149.61 854.48 149.61 855.74 149.61C857.01 149.61 857.64 149.03 858.90 148.35C860.17 147.66 860.80 147.00 862.06 146.19C863.33 145.38 863.96 145.10 865.22 144.29C866.48 143.48 867.12 142.14 868.38 142.14C869.64 142.14 870.28 142.64 871.54 142.64C872.80 142.64 873.43 138.59 874.70 138.59C875.96 138.59 876.59 140.67 877.86 141.50C879.12 142.34 879.75 142.77 881.02 142.77C882.28 142.77 882.91 142.39 884.17 142.39C885.44 142.39 886.07 146.77 887.33 148.73C888.60 150.68 889.23 152.15 890.49 152.15C891.76 152.15 892.39 148.09 893.65 148.09C894.92 148.09 895.55 151.01 896.81 151.01C898.07 151.01 898.71 151.01 899.97 150.88C901.23 150.75 901.87 149.61 903.13 149.61C904.39 149.61 905.02 150.25 906.29 150.25C907.55 150.25 908.18 147.56 909.45 146.57C910.71 145.58 911.34 145.43 912.61 145.30C913.87 145.18 914.50 145.18 915.76 145.18C917.03 145.18 917.66 145.81 918.92 145.81C920.19 145.81 920.82 145.10 922.08 144.29C923.35 143.48 923.98 143.40 925.24 141.76C926.51 140.11 927.14 138.59 928.40 136.05C929.66 133.52 930.30 129.08 931.56 129.08C932.82 129.08 933.46 129.08 934.72 129.08C935.98 129.08 936.61 125.66 937.88 124.01C939.14 122.36 939.77 121.91 941.04 120.84C942.30 119.78 942.93 118.69 944.20 118.69C945.46 118.69 946.09 121.48 947.36 121.48C948.62 121.48 949.25 117.67 950.51 117.67C951.78 117.67 952.41 118.18 953.67 118.94C954.94 119.70 955.57 121.48 956.83 121.48C958.10 121.48 958.73 117.86 959.99 116.41C961.25 114.96 961.89 114.22 963.15 114.22C964.41 114.22 965.05 114.47 966.31 114.47C967.57 114.47 968.20 114.07 969.47 113.59C970.73 113.11 971.36 112.07 972.63 112.07C973.89 112.07 974.52 114.85 975.79 114.85C977.05 114.85 977.68 114.85 978.94 114.85C980.21 114.85 980.84 113.33 982.10 113.33C983.37 113.33 984.00 114.73 985.26 115.49C986.53 116.25 987.16 117.14 988.42 117.14C989.69 117.14 990.32 115.23 991.58 115.23C992.84 115.23 993.48 116.53 994.74 117.01C996.00 117.49 996.64 117.64 997.90 117.64C999.16 117.64 999.79 115.87 1001.06 115.87C1002.32 115.87 1002.95 116.76 1004.22 116.76C1005.48 116.76 1006.11 113.97 1007.38 113.97C1008.64 113.97 1009.27 114.80 1010.53 115.23C1011.80 115.67 1012.43 116.12 1013.69 116.12C1014.96 116.12 1015.59 115.41 1016.85 114.85C1018.12 114.30 1020.01 113.33 1020.01 113.33" fill="none" stroke="#3590dc" stroke-width="0.9" stroke-linejoin="round"/>
<g fill="#3590dc" stroke="rgba(255,255,255,0.6)" stroke-width="0.9"><circle cx="15.45" cy="311.45" r="1.95"/><circle cx="24.93" cy="311.45" r="1.95"/><circle cx="34.40" cy="311.45" r="1.95"/><circle cx="43.88" cy="311.45" r="1.95"/><circle cx="53.36" cy="311.45" r="1.95"/><circle cx="62.83" cy="311.45" r="1.95"/><circle cx="72.31" cy="311.45" r="1.95"/><circle cx="81.79" cy="311.45" r="1.95"/><circle cx="91.27" cy="311.45" r="1.95"/><circle cx="100.74" cy="311.45" r="1.95"/><circle cx="110.22" cy="311.45" r="1.95"/><circle cx="119.70" cy="311.45" r="1.95"/><circle cx="129.17" cy="311.45" r="1.95"/><circle cx="138.65" cy="311.45" r="1.95"/><circle cx="148.13" cy="311.45" r="1.95"/><circle cx="157.60" cy="311.45" r="1.95"/><circle cx="167.08" cy="311.45" r="1.95"/><circle cx="176.56" cy="311.45" r="1.95"/><circle cx="186.04" cy="311.45" r="1.95"/><circle cx="195.51" cy="311.45" r="1.95"/><circle cx="204.99" cy="311.45" r="1.95"/><circle cx="214.47" cy="311.07" r="1.95"/><circle cx="223.94" cy="310.81" r="1.95"/><circle cx="233.42" cy="310.43" r="1.95"/><circle cx="242.90" cy="308.91" r="1.95"/><circle cx="252.37" cy="309.55" r="1.95"/><circle cx="261.85" cy="306.76" r="1.95"/><circle cx="271.33" cy="302.34" r="1.95"/><circle cx="280.81" cy="299.05" r="1.95"/><circle cx="290.28" cy="298.54" r="1.95"/><circle cx="299.76" cy="297.91" r="1.95"/><circle cx="309.24" cy="298.16" r="1.95"/><circle cx="318.71" cy="298.80" r="1.95"/><circle cx="328.19" cy="298.54" r="1.95"/><circle cx="337.67" cy="297.15" r="1.95"/><circle cx="347.14" cy="294.74" r="1.95"/><circle cx="356.62" cy="297.02" r="1.95"/><circle cx="366.10" cy="293.85" r="1.95"/><circle cx="375.58" cy="289.54" r="1.95"/><circle cx="385.05" cy="291.19" r="1.95"/><circle cx="394.53" cy="289.54" r="1.95"/><circle cx="404.01" cy="288.40" r="1.95"/><circle cx="413.48" cy="287.77" r="1.95"/><circle cx="422.96" cy="283.97" r="1.95"/><circle cx="432.44" cy="281.69" r="1.95"/><circle cx="441.91" cy="279.15" r="1.95"/><circle cx="451.39" cy="276.62" r="1.95"/><circle cx="460.87" cy="274.46" r="1.95"/><circle cx="470.35" cy="268.76" r="1.95"/><circle cx="479.82" cy="267.74" r="1.95"/><circle cx="489.30" cy="263.94" r="1.95"/><circle cx="498.78" cy="264.32" r="1.95"/><circle cx="508.25" cy="261.50" r="1.95"/><circle cx="517.73" cy="259.47" r="1.95"/><circle cx="527.21" cy="260.87" r="1.95"/><circle cx="536.69" cy="255.04" r="1.95"/><circle cx="546.16" cy="250.98" r="1.95"/><circle cx="555.64" cy="252.00" r="1.95"/><circle cx="565.12" cy="252.50" r="1.95"/><circle cx="574.59" cy="254.53" r="1.95"/><circle cx="584.07" cy="249.71" r="1.95"/><circle cx="593.55" cy="241.10" r="1.95"/><circle cx="603.02" cy="237.29" r="1.95"/><circle cx="612.50" cy="238.69" r="1.95"/><circle cx="621.98" cy="241.22" r="1.95"/><circle cx="631.46" cy="237.46" r="1.95"/><circle cx="640.93" cy="236.19" r="1.95"/><circle cx="650.41" cy="234.67" r="1.95"/><circle cx="659.89" cy="226.31" r="1.95"/><circle cx="669.36" cy="225.16" r="1.95"/><circle cx="678.84" cy="224.15" r="1.95"/><circle cx="688.32" cy="233.66" r="1.95"/><circle cx="697.79" cy="230.49" r="1.95"/><circle cx="707.27" cy="228.59" r="1.95"/><circle cx="716.75" cy="228.33" r="1.95"/><circle cx="726.23" cy="223.26" r="1.95"/><circle cx="735.70" cy="219.08" r="1.95"/><circle cx="745.18" cy="214.10" r="1.95"/><circle cx="754.66" cy="208.41" r="1.95"/><circle cx="764.13" cy="211.40" r="1.95"/><circle cx="773.61" cy="200.47" r="1.95"/><circle cx="783.09" cy="195.68" r="1.95"/><circle cx="792.56" cy="188.49" r="1.95"/><circle cx="802.04" cy="183.25" r="1.95"/><circle cx="811.52" cy="169.92" r="1.95"/><circle cx="821.00" cy="168.72" r="1.95"/><circle cx="830.47" cy="164.53" r="1.95"/><circle cx="839.95" cy="155.70" r="1.95"/><circle cx="849.43" cy="151.01" r="1.95"/><circle cx="858.90" cy="148.35" r="1.95"/><circle cx="868.38" cy="142.14" r="1.95"/><circle cx="877.86" cy="141.50" r="1.95"/><circle cx="887.33" cy="148.73" r="1.95"/><circle cx="896.81" cy="151.01" r="1.95"/><circle cx="906.29" cy="150.25" r="1.95"/><circle cx="915.76" cy="145.18" r="1.95"/><circle cx="925.24" cy="141.76" r="1.95"/><circle cx="934.72" cy="129.08" r="1.95"/><circle cx="944.20" cy="118.69" r="1.95"/><circle cx="953.67" cy="118.94" r="1.95"/><circle cx="963.15" cy="114.22" r="1.95"/><circle cx="972.63" cy="112.07" r="1.95"/><circle cx="982.10" cy="113.33" r="1.95"/><circle cx="991.58" cy="115.23" r="1.95"/><circle cx="1001.06" cy="115.87" r="1.95"/><circle cx="1010.53" cy="115.23" r="1.95"/><circle cx="1020.01" cy="113.33" r="1.95"/></g>
<path d="M15.45 264.08C15.45 264.08 17.35 264.08 18.61 264.71C19.87 265.35 20.50 266.69 21.77 268.52C23.03 270.34 23.66 273.84 24.93 273.84C26.19 273.84 26.82 271.31 28.09 271.31C29.35 271.31 29.98 272.57 31.24 273.21C32.51 273.84 33.14 274.47 34.40 274.47C35.67 274.47 36.30 274.02 37.56 273.59C38.83 273.16 39.46 273.59 40.72 272.32C41.99 271.05 42.62 263.70 43.88 263.70C45.14 263.70 45.78 264.08 47.04 264.71C48.30 265.35 48.94 265.93 50.20 266.87C51.46 267.81 52.09 269.40 53.36 269.40C54.62 269.40 55.25 267.81 56.52 267.25C57.78 266.69 58.41 266.92 59.68 266.62C60.94 266.31 61.57 265.73 62.83 265.73C64.10 265.73 64.73 265.98 65.99 265.98C67.26 265.98 67.89 261.80 69.15 261.80C70.42 261.80 71.05 263.19 72.31 263.19C73.58 263.19 74.21 263.19 75.47 263.19C76.73 263.19 77.37 265.10 78.63 265.73C79.89 266.36 80.53 266.11 81.79 266.36C83.05 266.62 83.68 266.74 84.95 267.00C86.21 267.25 86.84 267.43 88.11 267.63C89.37 267.83 90.00 268.01 91.27 268.01C92.53 268.01 93.16 267.33 94.42 267.00C95.69 266.67 96.32 267.00 97.58 266.36C98.85 265.73 99.48 260.53 100.74 260.28C102.01 260.03 102.64 260.03 103.90 260.03C105.17 260.03 105.80 260.66 107.06 260.66C108.32 260.66 108.96 260.66 110.22 260.53C111.48 260.41 112.12 260.03 113.38 260.03C114.64 260.03 115.27 260.03 116.54 260.03C117.80 260.03 118.43 263.45 119.70 263.45C120.96 263.45 121.59 263.12 122.86 262.81C124.12 262.51 124.75 261.93 126.02 261.93C127.28 261.93 127.91 263.19 129.17 263.19C130.44 263.19 131.07 262.81 132.33 262.81C133.60 262.81 134.23 263.83 135.49 263.83C136.76 263.83 137.39 262.97 138.65 262.56C139.91 262.15 140.55 262.13 141.81 261.80C143.07 261.47 143.71 261.29 144.97 260.91C146.23 260.53 146.86 260.20 148.13 259.90C149.39 259.59 150.02 259.82 151.29 259.39C152.55 258.96 153.18 257.74 154.45 257.74C155.71 257.74 156.34 260.28 157.60 260.28C158.87 260.28 159.50 260.03 160.76 260.03C162.03 260.03 162.66 260.46 163.92 260.66C165.19 260.86 165.82 261.04 167.08 261.04C168.35 261.04 168.98 259.65 170.24 259.65C171.50 259.65 172.14 259.95 173.40 260.28C174.66 260.61 175.30 261.29 176.56 261.29C177.82 261.29 178.45 260.03 179.72 260.03C180.98 260.03 181.61 262.56 182.88 262.56C184.14 262.56 184.77 261.06 186.04 260.53C187.30 260.00 187.93 259.90 189.19 259.90C190.46 259.90 191.09 259.90 192.35 260.91C193.62 261.93 194.25 273.59 195.51 278.66C196.78 283.73 197.41 284.23 198.67 286.26C199.94 288.29 200.57 287.96 201.83 288.80C203.09 289.63 203.73 289.99 204.99 290.44C206.25 290.90 206.89 291.08 208.15 291.08C209.41 291.08 210.04 291.08 211.31 291.08C212.57 291.08 213.20 291.08 214.47 291.08C215.73 291.08 216.36 290.44 217.63 290.44C218.89 290.44 219.52 291.71 220.78 291.71C222.05 291.71 222.68 290.52 223.94 290.06C225.21 289.61 225.84 289.61 227.10 289.43C228.37 289.25 229.00 289.35 230.26 289.18C231.53 289.00 232.16 288.75 233.42 288.54C234.68 288.34 235.32 288.44 236.58 288.16C237.84 287.88 238.48 287.15 239.74 287.15C241.00 287.15 241.63 287.28 242.90 287.28C244.16 287.28 244.79 286.64 246.06 286.26C247.32 285.88 247.95 285.70 249.22 285.37C250.48 285.04 251.11 284.61 252.37 284.61C253.64 284.61 254.27 285.04 255.53 285.37C256.80 285.70 257.43 286.26 258.69 286.26C259.96 286.26 260.59 286.26 261.85 285.87C263.12 285.48 263.75 283.59 265.01 283.59C266.27 283.59 266.91 284.98 268.17 285.23C269.43 285.49 270.07 285.49 271.33 285.49C272.59 285.49 273.22 285.23 274.49 285.23C275.75 285.23 276.38 286.12 277.65 286.12C278.91 286.12 279.54 286.12 280.81 286.12C282.07 286.12 282.70 285.16 283.96 284.47C285.23 283.79 285.86 283.51 287.12 282.70C288.39 281.89 289.02 280.42 290.28 280.42C291.55 280.42 292.18 281.76 293.44 282.32C294.71 282.88 295.34 283.21 296.60 283.21C297.86 283.21 298.50 281.99 299.76 281.43C301.02 280.87 301.66 280.42 302.92 280.42C304.18 280.42 304.81 280.42 306.08 280.42C307.34 280.42 307.97 281.43 309.24 281.43C310.50 281.43 311.13 281.43 312.40 280.42C313.66 279.40 314.29 275.98 315.55 275.98C316.82 275.98 317.45 277.88 318.71 277.88C319.98 277.88 320.61 276.62 321.87 276.62C323.14 276.62 323.77 277.00 325.03 277.25C326.30 277.50 326.93 277.88 328.19 277.88C329.45 277.88 330.09 276.49 331.35 274.71C332.61 272.94 333.25 270.66 334.51 269.01C335.77 267.36 336.40 267.62 337.67 266.48C338.93 265.34 339.56 263.94 340.83 263.31C342.09 262.67 342.72 262.93 343.99 262.67C345.25 262.42 345.88 262.67 347.14 262.04C348.41 261.41 349.04 258.62 350.30 258.62C351.57 258.62 352.20 258.62 353.46 259.51C354.73 260.39 355.36 263.05 356.62 263.05C357.89 263.05 358.52 262.67 359.78 262.67C361.04 262.67 361.68 265.46 362.94 265.46C364.20 265.46 364.84 261.33 366.10 259.76C367.36 258.19 367.99 258.24 369.26 257.60C370.52 256.97 371.15 256.97 372.42 256.59C373.68 256.21 374.31 256.39 375.58 255.70C376.84 255.02 377.47 253.17 378.73 253.17C380.00 253.17 380.63 257.01 381.89 258.87C383.16 260.73 383.79 262.46 385.05 262.46C386.32 262.46 386.95 261.24 388.21 260.30C389.48 259.37 390.11 257.77 391.37 257.77C392.63 257.77 393.27 262.71 394.53 262.71C395.79 262.71 396.43 262.46 397.69 262.46C398.95 262.46 399.58 262.46 400.85 262.46C402.11 262.46 402.74 262.89 404.01 263.47C405.27 264.06 405.90 265.37 407.17 265.37C408.43 265.37 409.06 262.33 410.32 260.56C411.59 258.78 412.22 257.90 413.48 256.50C414.75 255.11 415.38 253.59 416.64 253.59C417.91 253.59 418.54 257.39 419.80 257.39C421.07 257.39 421.70 256.25 422.96 255.87C424.22 255.49 424.86 255.49 426.12 255.49C427.38 255.49 428.02 257.90 429.28 259.04C430.54 260.18 431.17 261.19 432.44 261.19C433.70 261.19 434.33 258.66 435.60 257.77C436.86 256.88 437.49 257.16 438.76 256.76C440.02 256.35 440.65 256.12 441.91 255.74C443.18 255.36 443.81 255.29 445.07 254.85C446.34 254.42 446.97 253.59 448.23 253.59C449.50 253.59 450.13 253.89 451.39 254.22C452.66 254.55 453.29 254.98 454.55 255.23C455.81 255.49 456.45 255.49 457.71 255.49C458.97 255.49 459.61 253.33 460.87 253.33C462.13 253.33 462.76 253.59 464.03 253.59C465.29 253.59 465.92 251.38 467.19 249.15C468.45 246.92 469.08 242.43 470.35 242.43C471.61 242.43 472.24 244.08 473.50 244.08C474.77 244.08 475.40 243.90 476.66 243.45C477.93 242.99 478.56 241.80 479.82 241.80C481.09 241.80 481.72 242.18 482.98 242.18C484.25 242.18 484.88 241.24 486.14 240.28C487.40 239.32 488.04 238.33 489.30 237.36C490.56 236.40 491.20 235.94 492.46 235.46C493.72 234.98 494.35 234.96 495.62 234.96C496.88 234.96 497.51 239.39 498.78 239.39C500.04 239.39 500.67 235.46 501.94 235.21C503.20 234.96 503.83 234.96 505.09 234.96C506.36 234.96 506.99 235.18 508.25 235.18C509.52 235.18 510.15 233.02 511.41 233.02C512.68 233.02 513.31 233.66 514.57 234.04C515.84 234.42 516.47 234.62 517.73 234.92C518.99 235.23 519.63 235.56 520.89 235.56C522.15 235.56 522.79 235.56 524.05 235.56C525.31 235.56 525.94 242.28 527.21 242.28C528.47 242.28 529.10 241.13 530.37 240.37C531.63 239.61 532.26 239.23 533.53 238.47C534.79 237.71 535.42 237.36 536.69 236.57C537.95 235.79 538.58 234.54 539.84 234.54C541.11 234.54 541.74 237.46 543.00 237.46C544.27 237.46 544.90 236.62 546.16 236.19C547.43 235.76 548.06 235.30 549.32 235.30C550.58 235.30 551.22 239.36 552.48 239.36C553.74 239.36 554.38 237.21 555.64 237.21C556.90 237.21 557.53 237.23 558.80 237.71C560.06 238.19 560.69 239.61 561.96 239.61C563.22 239.61 563.85 233.15 565.12 232.77C566.38 232.39 567.01 232.39 568.27 232.39C569.54 232.39 570.17 234.04 571.43 234.04C572.70 234.04 573.33 231.76 574.59 231.76C575.86 231.76 576.49 232.47 577.75 233.02C579.02 233.58 579.65 234.11 580.91 234.54C582.17 234.97 582.81 235.18 584.07 235.18C585.33 235.18 585.97 232.44 587.23 231.12C588.49 229.80 589.12 228.59 590.39 228.59C591.65 228.59 592.28 233.66 593.55 233.66C594.81 233.66 595.44 232.14 596.71 231.76C597.97 231.38 598.60 231.76 599.87 231.38C601.13 230.99 601.76 229.60 603.02 229.60C604.29 229.60 604.92 233.86 606.18 235.30C607.45 236.75 608.08 236.83 609.34 236.83C610.61 236.83 611.24 236.32 612.50 235.30C613.76 234.29 614.40 235.30 615.66 231.76C616.92 228.21 617.56 212.74 618.82 212.74C620.08 212.74 620.71 214.52 621.98 214.90C623.24 215.28 623.87 214.90 625.14 215.28C626.40 215.66 627.03 218.45 628.30 218.45C629.56 218.45 630.19 217.85 631.46 217.85C632.72 217.85 633.35 219.50 634.61 219.50C635.88 219.50 636.51 219.50 637.77 217.60C639.04 215.70 639.67 209.61 640.93 209.61C642.20 209.61 642.83 213.80 644.09 213.80C645.35 213.80 645.99 213.16 647.25 212.91C648.51 212.66 649.15 212.53 650.41 212.53C651.67 212.53 652.30 212.53 653.57 212.91C654.83 213.29 655.46 214.05 656.73 215.06C657.99 216.08 658.62 217.98 659.89 217.98C661.15 217.98 661.78 216.33 663.04 216.33C664.31 216.33 664.94 219.50 666.20 219.50C667.47 219.50 668.10 219.50 669.36 219.50C670.63 219.50 671.26 219.75 672.52 219.75C673.79 219.75 674.42 217.22 675.68 215.70C676.94 214.18 677.58 213.04 678.84 212.15C680.10 211.26 680.74 211.26 682.00 211.26C683.26 211.26 683.89 212.15 685.16 212.15C686.42 212.15 687.05 211.87 688.32 211.01C689.58 210.15 690.21 208.93 691.48 207.84C692.74 206.75 693.37 206.57 694.63 205.56C695.90 204.54 696.53 204.04 697.79 202.77C699.06 201.50 699.69 201.07 700.95 199.22C702.22 197.37 702.85 195.22 704.11 193.52C705.38 191.82 706.01 191.87 707.27 190.73C708.53 189.59 709.17 189.03 710.43 187.81C711.69 186.60 712.33 185.96 713.59 184.65C714.85 183.33 715.48 181.22 716.75 181.22C718.01 181.22 718.64 181.48 719.91 181.48C721.17 181.48 721.80 180.72 723.07 179.96C724.33 179.20 724.96 178.26 726.23 177.67C727.49 177.09 728.12 177.67 729.38 177.04C730.65 176.41 731.28 174.71 732.54 172.60C733.81 170.50 734.44 166.52 735.70 166.52C736.97 166.52 737.60 169.56 738.86 169.82C740.12 170.07 740.76 169.82 742.02 170.07C743.28 170.32 743.92 177.04 745.18 177.04C746.44 177.04 747.07 174.78 748.34 173.65C749.60 172.52 750.23 173.65 751.50 171.40C752.76 169.16 753.39 150.44 754.66 150.44C755.92 150.44 756.55 151.94 757.82 151.94C759.08 151.94 759.71 148.64 760.97 148.64C762.24 148.64 762.87 149.18 764.13 150.44C765.40 151.70 766.03 154.93 767.29 154.93C768.56 154.93 769.19 148.04 770.45 145.20C771.71 142.35 772.35 143.70 773.61 140.70C774.87 137.71 775.51 132.47 776.77 130.22C778.03 127.97 778.66 129.68 779.93 127.97C781.19 126.26 781.82 123.33 783.09 121.68C784.35 120.03 784.98 119.73 786.25 119.73C787.51 119.73 788.14 119.79 789.40 120.18C790.67 120.57 791.30 121.68 792.56 121.68C793.83 121.68 794.46 116.29 795.72 116.29C796.99 116.29 797.62 116.29 798.88 116.29C800.15 116.29 800.78 117.70 802.04 118.24C803.30 118.78 803.94 118.99 805.20 118.99C806.46 118.99 807.10 108.58 808.36 105.00C809.62 101.42 810.25 102.57 811.52 101.11C812.78 99.64 813.41 98.56 814.68 97.66C815.94 96.76 816.57 96.61 817.84 96.61C819.10 96.61 819.73 102.90 821.00 102.90C822.26 102.90 822.89 99.91 824.15 97.66C825.42 95.41 826.05 94.76 827.31 91.67C828.58 88.58 829.21 85.83 830.47 82.23C831.74 78.64 832.37 74.75 833.63 73.70C834.89 72.65 835.53 72.65 836.79 72.65C838.05 72.65 838.69 73.49 839.95 74.15C841.21 74.81 841.84 75.94 843.11 75.94C844.37 75.94 845.00 74.75 846.27 74.75C847.53 74.75 848.16 78.94 849.43 78.94C850.69 78.94 851.32 73.91 852.59 72.20C853.85 70.49 854.48 71.09 855.74 70.40C857.01 69.71 857.64 68.76 858.90 68.76C860.17 68.76 860.80 69.20 862.06 69.20C863.33 69.20 863.96 68.76 865.22 68.46C866.48 68.16 867.12 67.71 868.38 67.71C869.64 67.71 870.28 67.71 871.54 67.71C872.80 67.71 873.43 54.23 874.70 54.23C875.96 54.23 876.59 58.72 877.86 58.72C879.12 58.72 879.75 50.78 881.02 50.78C882.28 50.78 882.91 51.68 884.17 51.68C885.44 51.68 886.07 48.93 887.33 47.19C888.60 45.45 889.23 43.00 890.49 43.00C891.76 43.00 892.39 62.11 893.65 69.95C894.92 77.80 895.55 78.04 896.81 82.23C898.07 86.43 898.71 90.92 899.97 90.92C901.23 90.92 901.87 90.17 903.13 90.17C904.39 90.17 905.02 93.92 906.29 93.92C907.55 93.92 908.18 91.97 909.45 90.17C910.71 88.38 911.34 84.93 912.61 84.93C913.87 84.93 914.50 87.78 915.76 89.12C917.03 90.47 917.66 91.01 918.92 91.67C920.19 92.33 920.82 91.67 922.08 92.42C923.35 93.17 923.98 102.15 925.24 102.15C926.51 102.15 927.14 102.15 928.40 101.70C929.66 101.26 930.30 101.70 931.56 99.88C932.82 98.06 933.46 57.95 934.72 57.95C935.98 57.95 936.61 59.15 937.88 59.15C939.14 59.15 939.77 57.38 941.04 56.75C942.30 56.12 942.93 56.00 944.20 56.00C945.46 56.00 946.09 57.26 947.36 59.45C948.62 61.63 949.25 66.94 950.51 66.94C951.78 66.94 952.41 58.10 953.67 56.90C954.94 55.70 955.57 55.70 956.83 55.70C958.10 55.70 958.73 56.75 959.99 56.75C961.25 56.75 961.89 51.27 963.15 48.21C964.41 45.16 965.05 44.77 966.31 41.47C967.57 38.18 968.20 31.74 969.47 31.74C970.73 31.74 971.36 31.74 972.63 35.03C973.89 38.33 974.52 59.75 975.79 60.94C977.05 62.14 977.68 61.69 978.94 62.14C980.21 62.59 980.84 62.14 982.10 63.19C983.37 64.24 984.00 67.68 985.26 67.68C986.53 67.68 987.16 67.23 988.42 67.23C989.69 67.23 990.32 69.48 991.58 69.48C992.84 69.48 993.48 68.28 994.74 67.23C996.00 66.19 996.64 64.84 997.90 64.24C999.16 63.64 999.79 63.64 1001.06 63.64C1002.32 63.64 1002.95 66.19 1004.22 66.19C1005.48 66.19 1006.11 65.44 1007.38 64.69C1008.64 63.94 1009.27 63.34 1010.53 62.44C1011.80 61.54 1012.43 61.15 1013.69 60.20C1014.96 59.24 1015.59 58.40 1016.85 57.65C1018.12 56.90 1020.01 56.45 1020.01 56.45" fill="none" stroke="#8fbe22" stroke-width="0.9" stroke-linejoin="round"/>
<g fill="#8fbe22" stroke="rgba(255,255,255,0.6)" stroke-width="0.9"><circle cx="15.45" cy="264.08" r="1.95"/><circle cx="24.93" cy="273.84" r="1.95"/><circle cx="34.40" cy="274.47" r="1.95"/><circle cx="43.88" cy="263.70" r="1.95"/><circle cx="53.36" cy="269.40" r="1.95"/><circle cx="62.83" cy="265.73" r="1.95"/><circle cx="72.31" cy="263.19" r="1.95"/><circle cx="81.79" cy="266.36" r="1.95"/><circle cx="91.27" cy="268.01" r="1.95"/><circle cx="100.74" cy="260.28" r="1.95"/><circle cx="110.22" cy="260.53" r="1.95"/><circle cx="119.70" cy="263.45" r="1.95"/><circle cx="129.17" cy="263.19" r="1.95"/><circle cx="138.65" cy="262.56" r="1.95"/><circle cx="148.13" cy="259.90" r="1.95"/><circle cx="157.60" cy="260.28" r="1.95"/><circle cx="167.08" cy="261.04" r="1.95"/><circle cx="176.56" cy="261.29" r="1.95"/><circle cx="186.04" cy="260.53" r="1.95"/><circle cx="195.51" cy="278.66" r="1.95"/><circle cx="204.99" cy="290.44" r="1.95"/><circle cx="214.47" cy="291.08" r="1.95"/><circle cx="223.94" cy="290.06" r="1.95"/><circle cx="233.42" cy="288.54" r="1.95"/><circle cx="242.90" cy="287.28" r="1.95"/><circle cx="252.37" cy="284.61" r="1.95"/><circle cx="261.85" cy="285.87" r="1.95"/><circle cx="271.33" cy="285.49" r="1.95"/><circle cx="280.81" cy="286.12" r="1.95"/><circle cx="290.28" cy="280.42" r="1.95"/><circle cx="299.76" cy="281.43" r="1.95"/><circle cx="309.24" cy="281.43" r="1.95"/><circle cx="318.71" cy="277.88" r="1.95"/><circle cx="328.19" cy="277.88" r="1.95"/><circle cx="337.67" cy="266.48" r="1.95"/><circle cx="347.14" cy="262.04" r="1.95"/><circle cx="356.62" cy="263.05" r="1.95"/><circle cx="366.10" cy="259.76" r="1.95"/><circle cx="375.58" cy="255.70" r="1.95"/><circle cx="385.05" cy="262.46" r="1.95"/><circle cx="394.53" cy="262.71" r="1.95"/><circle cx="404.01" cy="263.47" r="1.95"/><circle cx="413.48" cy="256.50" r="1.95"/><circle cx="422.96" cy="255.87" r="1.95"/><circle cx="432.44" cy="261.19" r="1.95"/><circle cx="441.91" cy="255.74" r="1.95"/><circle cx="451.39" cy="254.22" r="1.95"/><circle cx="460.87" cy="253.33" r="1.95"/><circle cx="470.35" cy="242.43" r="1.95"/><circle cx="479.82" cy="241.80" r="1.95"/><circle cx="489.30" cy="237.36" r="1.95"/><circle cx="498.78" cy="239.39" r="1.95"/><circle cx="508.25" cy="235.18" r="1.95"/><circle cx="517.73" cy="234.92" r="1.95"/><circle cx="527.21" cy="242.28" r="1.95"/><circle cx="536.69" cy="236.57" r="1.95"/><circle cx="546.16" cy="236.19" r="1.95"/><circle cx="555.64" cy="237.21" r="1.95"/><circle cx="565.12" cy="232.77" r="1.95"/><circle cx="574.59" cy="231.76" r="1.95"/><circle cx="584.07" cy="235.18" r="1.95"/><circle cx="593.55" cy="233.66" r="1.95"/><circle cx="603.02" cy="229.60" r="1.95"/><circle cx="612.50" cy="235.30" r="1.95"/><circle cx="621.98" cy="214.90" r="1.95"/><circle cx="631.46" cy="217.85" r="1.95"/><circle cx="640.93" cy="209.61" r="1.95"/><circle cx="650.41" cy="212.53" r="1.95"/><circle cx="659.89" cy="217.98" r="1.95"/><circle cx="669.36" cy="219.50" r="1.95"/><circle cx="678.84" cy="212.15" r="1.95"/><circle cx="688.32" cy="211.01" r="1.95"/><circle cx="697.79" cy="202.77" r="1.95"/><circle cx="707.27" cy="190.73" r="1.95"/><circle cx="716.75" cy="181.22" r="1.95"/><circle cx="726.23" cy="177.67" r="1.95"/><circle cx="735.70" cy="166.52" r="1.95"/><circle cx="745.18" cy="177.04" r="1.95"/><circle cx="754.66" cy="150.44" r="1.95"/><circle cx="764.13" cy="150.44" r="1.95"/><circle cx="773.61" cy="140.70" r="1.95"/><circle cx="783.09" cy="121.68" r="1.95"/><circle cx="792.56" cy="121.68" r="1.95"/><circle cx="802.04" cy="118.24" r="1.95"/><circle cx="811.52" cy="101.11" r="1.95"/><circle cx="821.00" cy="102.90" r="1.95"/><circle cx="830.47" cy="82.23" r="1.95"/><circle cx="839.95" cy="74.15" r="1.95"/><circle cx="849.43" cy="78.94" r="1.95"/><circle cx="858.90" cy="68.76" r="1.95"/><circle cx="868.38" cy="67.71" r="1.95"/><circle cx="877.86" cy="58.72" r="1.95"/><circle cx="887.33" cy="47.19" r="1.95"/><circle cx="896.81" cy="82.23" r="1.95"/><circle cx="906.29" cy="93.92" r="1.95"/><circle cx="915.76" cy="89.12" r="1.95"/><circle cx="925.24" cy="102.15" r="1.95"/><circle cx="934.72" cy="57.95" r="1.95"/><circle cx="944.20" cy="56.00" r="1.95"/><circle cx="953.67" cy="56.90" r="1.95"/><circle cx="963.15" cy="48.21" r="1.95"/><circle cx="972.63" cy="35.03" r="1.95"/><circle cx="982.10" cy="63.19" r="1.95"/><circle cx="991.58" cy="69.48" r="1.95"/><circle cx="1001.06" cy="63.64" r="1.95"/><circle cx="1010.53" cy="62.44" r="1.95"/><circle cx="1020.01" cy="56.45" r="1.95"/></g>
<line x1="378.7" y1="293.6" x2="378.7" y2="310.0" stroke="#7f877f" stroke-width="0.65"/><rect x="374.0" y="283.0" width="9.4" height="10.6" rx="1.6" fill="#14599f" stroke="rgba(255,255,255,0.35)" stroke-width="0.6"/><text x="378.7" y="290.8" font-family="Liberation Sans, sans-serif" font-weight="bold" font-size="7" fill="#fff" text-anchor="middle">A</text>
<line x1="586.8" y1="286.9" x2="586.8" y2="301.7" stroke="#7f877f" stroke-width="0.65"/><rect x="582.1" y="276.3" width="9.4" height="10.6" rx="1.6" fill="#14599f" stroke="rgba(255,255,255,0.35)" stroke-width="0.6"/><text x="586.8" y="284.1" font-family="Liberation Sans, sans-serif" font-weight="bold" font-size="7" fill="#fff" text-anchor="middle">B</text>
<line x1="593.4" y1="288.0" x2="593.4" y2="303.6" stroke="#7f877f" stroke-width="0.65"/><rect x="588.7" y="277.4" width="9.4" height="10.6" rx="1.6" fill="#14599f" stroke="rgba(255,255,255,0.35)" stroke-width="0.6"/><text x="593.4" y="285.2" font-family="Liberation Sans, sans-serif" font-weight="bold" font-size="7" fill="#fff" text-anchor="middle">C</text>
<line x1="830.4" y1="288.8" x2="830.4" y2="306.0" stroke="#7f877f" stroke-width="0.65"/><rect x="825.7" y="278.2" width="9.4" height="10.6" rx="1.6" fill="#14599f" stroke="rgba(255,255,255,0.35)" stroke-width="0.6"/><text x="830.4" y="286.0" font-family="Liberation Sans, sans-serif" font-weight="bold" font-size="7" fill="#fff" text-anchor="middle">D</text>
<text x="18.4" y="57.6" font-family="Liberation Sans, sans-serif" font-size="8.25" fill="#111" stroke="#111" stroke-width="0.22">200</text>
<text x="18.4" y="185.4" font-family="Liberation Sans, sans-serif" font-size="8.25" fill="#111" stroke="#111" stroke-width="0.22">100</text>
<text x="18.4" y="309.9" font-family="Liberation Sans, sans-serif" font-size="8.25" fill="#111" stroke="#111" stroke-width="0.22">0</text>
<text x="46.9" y="321.3" font-family="Liberation Sans, sans-serif" font-size="8.25" fill="#111" stroke="#111" stroke-width="0.22" text-anchor="middle">2008-05-05</text>
<text x="119.6" y="321.3" font-family="Liberation Sans, sans-serif" font-size="8.25" fill="#111" stroke="#111" stroke-width="0.22" text-anchor="middle">2008-10-13</text>
<text x="192.2" y="321.3" font-family="Liberation Sans, sans-serif" font-size="8.25" fill="#111" stroke="#111" stroke-width="0.22" text-anchor="middle">2009-03-23</text>
<text x="264.9" y="321.3" font-family="Liberation Sans, sans-serif" font-size="8.25" fill="#111" stroke="#111" stroke-width="0.22" text-anchor="middle">2009-08-31</text>
<text x="337.5" y="321.3" font-family="Liberation Sans, sans-serif" font-size="8.25" fill="#111" stroke="#111" stroke-width="0.22" text-anchor="middle">2010-02-08</text>
<text x="410.2" y="321.3" font-family="Liberation Sans, sans-serif" font-size="8.25" fill="#111" stroke="#111" stroke-width="0.22" text-anchor="middle">2010-07-19</text>
<text x="482.8" y="321.3" font-family="Liberation Sans, sans-serif" font-size="8.25" fill="#111" stroke="#111" stroke-width="0.22" text-anchor="middle">2010-12-27</text>
<text x="555.5" y="321.3" font-family="Liberation Sans, sans-serif" font-size="8.25" fill="#111" stroke="#111" stroke-width="0.22" text-anchor="middle">2011-06-06</text>
<text x="628.2" y="321.3" font-family="Liberation Sans, sans-serif" font-size="8.25" fill="#111" stroke="#111" stroke-width="0.22" text-anchor="middle">2011-11-14</text>
<text x="700.8" y="321.3" font-family="Liberation Sans, sans-serif" font-size="8.25" fill="#111" stroke="#111" stroke-width="0.22" text-anchor="middle">2012-04-23</text>
<text x="773.5" y="321.3" font-family="Liberation Sans, sans-serif" font-size="8.25" fill="#111" stroke="#111" stroke-width="0.22" text-anchor="middle">2012-10-01</text>
<text x="846.1" y="321.3" font-family="Liberation Sans, sans-serif" font-size="8.25" fill="#111" stroke="#111" stroke-width="0.22" text-anchor="middle">2013-03-11</text>
<text x="918.8" y="321.3" font-family="Liberation Sans, sans-serif" font-size="8.25" fill="#111" stroke="#111" stroke-width="0.22" text-anchor="middle">2013-08-19</text>
<text x="1019.3" y="321.3" font-family="Liberation Sans, sans-serif" font-size="8.25" fill="#111" stroke="#111" stroke-width="0.22" text-anchor="end">2014-03-31</text>
<rect x="60.5" y="44.5" width="77" height="34.2" fill="#fff" stroke="#dedede" stroke-width="1"/>
<circle cx="66.5" cy="51.6" r="3.1" fill="#f0604a"/>
<text x="76.6" y="54.5" font-family="Liberation Sans, sans-serif" font-size="8.25" fill="#111" stroke="#111" stroke-width="0.22">deichmann.com</text>
<circle cx="66.5" cy="61.7" r="3.1" fill="#3590dc"/>
<text x="76.6" y="64.6" font-family="Liberation Sans, sans-serif" font-size="8.25" fill="#111" stroke="#111" stroke-width="0.22">zalando.de</text>
<circle cx="66.5" cy="71.8" r="3.1" fill="#8fbe22"/>
<text x="76.6" y="74.7" font-family="Liberation Sans, sans-serif" font-size="8.25" fill="#111" stroke="#111" stroke-width="0.22">otto.de</text>
</svg><svg width="1030" height="434" viewBox="0 0 1030 434" style="position:absolute;left:0;top:0">
<rect x="13.9" y="11.3" width="8.8" height="6.3" rx="0.9" fill="#e6eff9" stroke="#76a6d2" stroke-width="0.9"/>
<path d="M14.7 17v-1h0.7v-0.9h1.2v0.9h0.4v-2.8h1.2v2.8h0.4v-2.2h1.2v2.2h0.4v-3.7h1.3v3.7h0.5v1z" fill="#3784d0"/>
<rect x="14" y="347.6" width="8.1" height="6" fill="#d6ecf8" opacity="0.55"/>
<rect x="13.9" y="347.50" width="1.5" height="1.5" fill="#2c74be"/><rect x="16.1" y="347.50" width="6" height="1.5" fill="#2c74be"/>
<rect x="13.9" y="349.85" width="1.5" height="1.5" fill="#2c74be"/><rect x="16.1" y="349.85" width="6" height="1.5" fill="#2c74be"/>
<rect x="13.9" y="352.20" width="1.5" height="1.5" fill="#2c74be"/><rect x="16.1" y="352.20" width="6" height="1.5" fill="#2c74be"/>
<path d="M1015.9 12.8l2.75 2.7 2.75-2.7" stroke="#5a5a5a" stroke-width="1.7" fill="none" stroke-linecap="round" stroke-linejoin="round"/>
<path d="M1015.9 349l2.75 2.6 2.75-2.6" stroke="#7c7c7c" stroke-width="1.6" fill="none" stroke-linecap="round" stroke-linejoin="round"/>
<path d="M139.8 351.8v6.8l1.6-1.5 1.2 2.8 1.2-0.5-1.2-2.7h2.2z" fill="#111" stroke="#fff" stroke-width="0.5"/>
</svg>
</body></html>
